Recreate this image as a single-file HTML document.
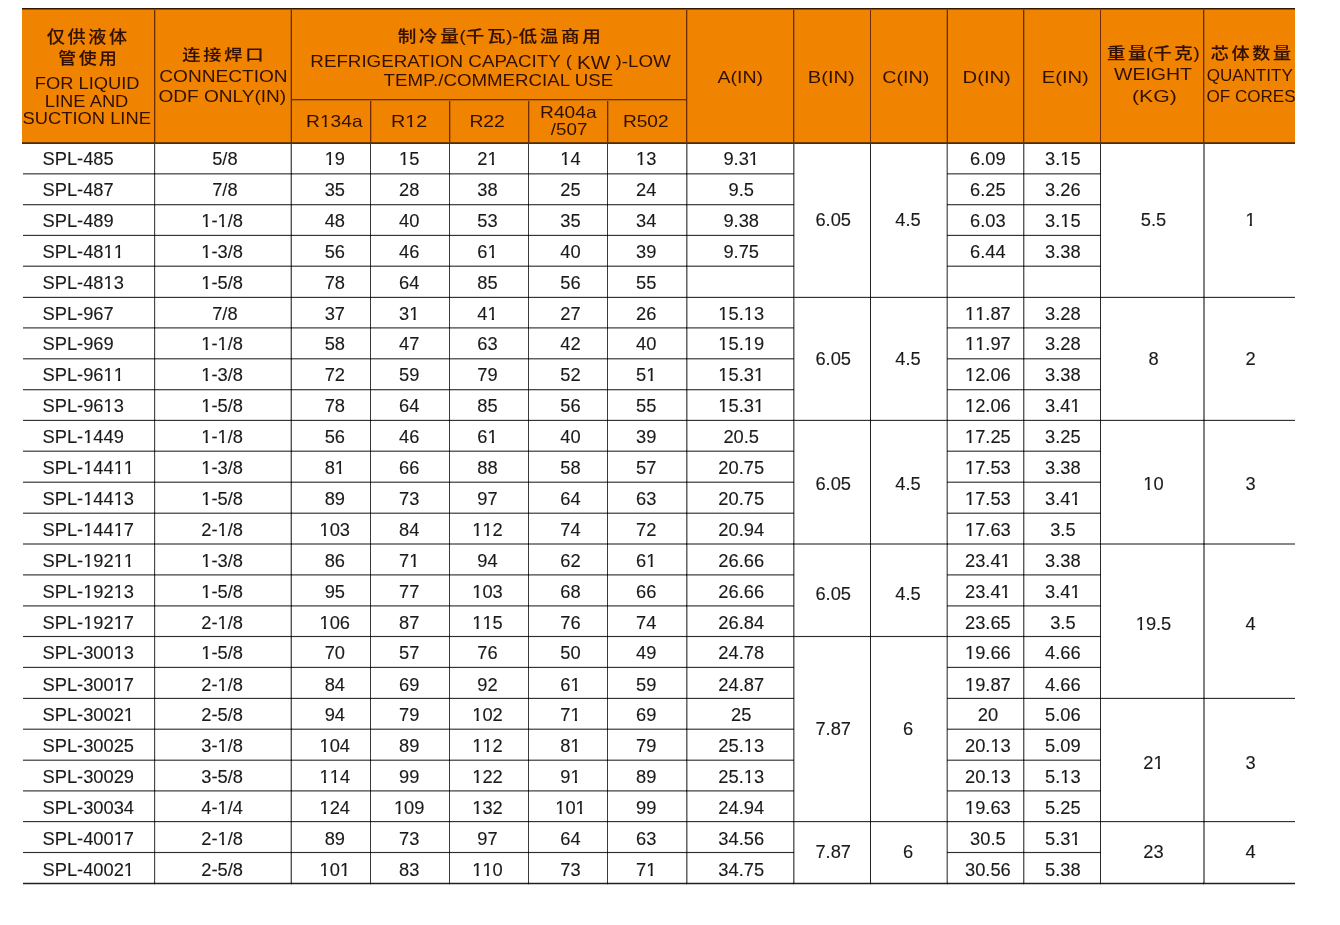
<!DOCTYPE html>
<html><head><meta charset="utf-8"><title>SPL</title>
<style>
html,body{margin:0;padding:0;background:#fff;}
body{width:1340px;height:925px;position:relative;overflow:hidden;}
.l{position:absolute;}
.m{mix-blend-mode:multiply;}
.d{position:absolute;font-family:"Liberation Sans",Arial,sans-serif;font-size:18.3px;line-height:21px;height:21px;color:#1a1a1a;white-space:nowrap;-webkit-text-stroke:0.12px #1a1a1a;}
.c{text-align:center;}
.p{font-style:normal;letter-spacing:0;margin-left:-2px;}
.o{display:inline-block;line-height:1em;clip-path:polygon(0 0,100% 0,100% 0.71em,0.355em 0.71em,0.355em 1em,0.235em 1em,0.235em 0.71em,0 0.71em);}
.kw{font-weight:normal;font-size:1.1em;position:relative;top:1.5px;display:inline-block;transform:scaleY(1.06);}
.he,.hc{position:absolute;width:400px;text-align:center;white-space:nowrap;color:#321000;}
.he span,.hc span{display:inline-block;transform-origin:50% 50%;}
.he{font-family:"Liberation Sans",Arial,sans-serif;font-size:16.5px;line-height:12px;height:12px;}
.hc{font-family:"Liberation Sans","Noto Sans CJK SC",sans-serif;font-size:18px;font-weight:500;line-height:16px;height:16px;letter-spacing:2.6px;-webkit-text-stroke:0.15px #321000;}
</style></head><body>
<div id="wrap" style="position:absolute;left:0;top:0;width:1340px;height:925px;will-change:transform">
<div class="l" style="left:22px;top:8px;width:1273px;height:136px;background:#f08400"></div>
<div class="l" style="left:22px;top:8px;width:1273px;height:1px;background:#331600"></div>
<div class="l" style="left:22px;top:9px;width:1273px;height:1px;background:#8c5010"></div>
<div class="l" style="left:22px;top:142px;width:1273px;height:1px;background:#6e3c06"></div>
<div class="l" style="left:22px;top:143px;width:1273px;height:1px;background:#45300f"></div>
<div class="l" style="left:155px;top:10px;width:1px;height:132px;background:#bc6a0c"></div>
<div class="l" style="left:154px;top:10px;width:1px;height:132px;background:#702c00"></div>
<div class="l" style="left:290px;top:10px;width:1px;height:132px;background:#bc6a0c"></div>
<div class="l" style="left:291px;top:10px;width:1px;height:132px;background:#702c00"></div>
<div class="l" style="left:687px;top:10px;width:1px;height:132px;background:#bc6a0c"></div>
<div class="l" style="left:686px;top:10px;width:1px;height:132px;background:#702c00"></div>
<div class="l" style="left:794px;top:10px;width:1px;height:132px;background:#bc6a0c"></div>
<div class="l" style="left:793px;top:10px;width:1px;height:132px;background:#702c00"></div>
<div class="l" style="left:870px;top:10px;width:1px;height:132px;background:#702c00"></div>
<div class="l" style="left:946px;top:10px;width:1px;height:132px;background:#bc6a0c"></div>
<div class="l" style="left:947px;top:10px;width:1px;height:132px;background:#702c00"></div>
<div class="l" style="left:1024px;top:10px;width:1px;height:132px;background:#bc6a0c"></div>
<div class="l" style="left:1023px;top:10px;width:1px;height:132px;background:#702c00"></div>
<div class="l" style="left:1100px;top:10px;width:1px;height:132px;background:#702c00"></div>
<div class="l" style="left:1204px;top:10px;width:1px;height:132px;background:#bc6a0c"></div>
<div class="l" style="left:1203px;top:10px;width:1px;height:132px;background:#702c00"></div>
<div class="l" style="left:370px;top:100px;width:1px;height:42px;background:#702c00"></div>
<div class="l" style="left:371px;top:100px;width:1px;height:42px;background:#bc6a0c"></div>
<div class="l" style="left:449px;top:100px;width:1px;height:42px;background:#702c00"></div>
<div class="l" style="left:450px;top:100px;width:1px;height:42px;background:#bc6a0c"></div>
<div class="l" style="left:528px;top:100px;width:1px;height:42px;background:#702c00"></div>
<div class="l" style="left:529px;top:100px;width:1px;height:42px;background:#bc6a0c"></div>
<div class="l" style="left:607px;top:100px;width:1px;height:42px;background:#702c00"></div>
<div class="l" style="left:608px;top:100px;width:1px;height:42px;background:#bc6a0c"></div>
<div class="l" style="left:292px;top:99px;width:394px;height:1px;background:#702c00"></div>
<div class="l" style="left:292px;top:100px;width:394px;height:1px;background:#bc6a0c"></div>
<div class="hc" id="h0" style="left:-111.40px;top:29.10px"><span style="transform:scale(1.0037,0.9320)">仅供液体</span></div>
<div class="hc" id="h1" style="left:-111.50px;top:50.60px"><span style="transform:scale(0.9913,0.8927)">管使用</span></div>
<div class="he" id="h2" style="left:-113.00px;top:77.00px"><span style="transform:scale(1.1089,1.0000)">FOR LIQUID</span></div>
<div class="he" id="h3" style="left:-112.95px;top:95.00px"><span style="transform:scale(1.1106,1.0000)">LINE AND</span></div>
<div class="he" id="h4" style="left:-113.50px;top:112.00px"><span style="transform:scale(1.1112,1.0000)">SUCTION LINE</span></div>
<div class="hc" id="h5" style="left:24.50px;top:46.50px"><span style="transform:scale(1.0161,0.8414)">连接焊口</span></div>
<div class="he" id="h6" style="left:23.30px;top:70.20px"><span style="transform:scale(1.1560,1.0000)">CONNECTION</span></div>
<div class="he" id="h7" style="left:22.10px;top:90.10px"><span style="transform:scale(1.1558,1.0000)">ODF ONLY(IN)</span></div>
<div class="hc" id="h8" style="left:300.55px;top:29.00px"><span style="transform:scale(1.0323,0.8900)">制冷量<i class=p>(</i>千瓦<i class=p>)-</i>低温商用</span></div>
<div class="he" id="h9" style="left:290.40px;top:55.00px"><span style="transform:scale(1.1365,1.0000)">REFRIGERATION CAPACITY ( <b class=kw>KW</b> )-LOW</span></div>
<div class="he" id="h10" style="left:298.50px;top:74.00px"><span style="transform:scale(1.1333,1.0000)">TEMP./COMMERCIAL USE</span></div>
<div class="he" id="h11" style="left:134.20px;top:113.10px"><span style="transform:scale(1.1606,1.0000)">R<span class="o">1</span>34a</span></div>
<div class="he" id="h12" style="left:208.70px;top:113.00px"><span style="transform:scale(1.1971,1.0000)">R<span class="o">1</span>2</span></div>
<div class="he" id="h13" style="left:287.20px;top:115.00px"><span style="transform:scale(1.1687,1.0000)">R22</span></div>
<div class="he" id="h14" style="left:368.20px;top:105.90px"><span style="transform:scale(1.1606,1.0000)">R404a</span></div>
<div class="he" id="h15" style="left:369.00px;top:122.90px"><span style="transform:scale(1.1394,1.0000)">/507</span></div>
<div class="he" id="h16" style="left:445.40px;top:115.00px"><span style="transform:scale(1.1569,1.0000)">R502</span></div>
<div class="he" id="h17" style="left:540.00px;top:71.00px"><span style="transform:scale(1.1838,1.0000)">A(IN)</span></div>
<div class="he" id="h18" style="left:631.60px;top:71.00px"><span style="transform:scale(1.2152,1.0000)">B(IN)</span></div>
<div class="he" id="h19" style="left:706.00px;top:71.00px"><span style="transform:scale(1.1958,1.0000)">C(IN)</span></div>
<div class="he" id="h20" style="left:786.60px;top:71.20px"><span style="transform:scale(1.2260,1.0000)">D(IN)</span></div>
<div class="he" id="h21" style="left:865.60px;top:71.20px"><span style="transform:scale(1.2235,1.0000)">E(IN)</span></div>
<div class="hc" id="h22" style="left:953.05px;top:46.00px"><span style="transform:scale(1.0248,0.8900)">重量<i class=p>(</i>千克<i class=p>)</i></span></div>
<div class="he" id="h23" style="left:952.80px;top:68.20px"><span style="transform:scale(1.1811,1.0000)">WEIGHT</span></div>
<div class="he" id="h24" style="left:954.20px;top:89.50px"><span style="transform:scale(1.2853,1.0000)">(KG)</span></div>
<div class="hc" id="h25" style="left:1052.30px;top:46.40px"><span style="transform:scale(1.0042,0.8598)">芯体数量</span></div>
<div class="he" id="h26" style="left:1050.00px;top:69.00px"><span style="transform:scale(1.0329,1.0000)">QUANTITY</span></div>
<div class="he" id="h27" style="left:1051.00px;top:89.80px"><span style="transform:scale(1.0332,1.0000)">OF CORES</span></div>
<div class="d" style="left:42.5px;top:148.00px">SPL-485</div>
<div class="d c" style="left:156.9px;top:148.00px;width:135.99999999999997px">5/8</div>
<div class="d c" style="left:295.8px;top:148.00px;width:78.0px"><span class="o">1</span>9</div>
<div class="d c" style="left:370.2px;top:148.00px;width:78.0px"><span class="o">1</span>5</div>
<div class="d c" style="left:448.5px;top:148.00px;width:78.0px">2<span class="o">1</span></div>
<div class="d c" style="left:531.5px;top:148.00px;width:78.0px"><span class="o">1</span>4</div>
<div class="d c" style="left:607.2px;top:148.00px;width:78.0px"><span class="o">1</span>3</div>
<div class="d c" style="left:688.2px;top:148.00px;width:106.0px">9.3<span class="o">1</span></div>
<div class="d c" style="left:950.4px;top:148.00px;width:75.00000000000011px">6.09</div>
<div class="d c" style="left:1024.9px;top:148.00px;width:76.0px">3.<span class="o">1</span>5</div>
<div class="d" style="left:42.5px;top:179.00px">SPL-487</div>
<div class="d c" style="left:156.9px;top:179.00px;width:135.99999999999997px">7/8</div>
<div class="d c" style="left:295.8px;top:179.00px;width:78.0px">35</div>
<div class="d c" style="left:370.2px;top:179.00px;width:78.0px">28</div>
<div class="d c" style="left:448.5px;top:179.00px;width:78.0px">38</div>
<div class="d c" style="left:531.5px;top:179.00px;width:78.0px">25</div>
<div class="d c" style="left:607.2px;top:179.00px;width:78.0px">24</div>
<div class="d c" style="left:688.2px;top:179.00px;width:106.0px">9.5</div>
<div class="d c" style="left:950.4px;top:179.00px;width:75.00000000000011px">6.25</div>
<div class="d c" style="left:1024.9px;top:179.00px;width:76.0px">3.26</div>
<div class="d" style="left:42.5px;top:210.00px">SPL-489</div>
<div class="d c" style="left:154.2px;top:210.00px;width:136.0px"><span class="o">1</span>-<span class="o">1</span>/8</div>
<div class="d c" style="left:295.8px;top:210.00px;width:78.0px">48</div>
<div class="d c" style="left:370.2px;top:210.00px;width:78.0px">40</div>
<div class="d c" style="left:448.5px;top:210.00px;width:78.0px">53</div>
<div class="d c" style="left:531.5px;top:210.00px;width:78.0px">35</div>
<div class="d c" style="left:607.2px;top:210.00px;width:78.0px">34</div>
<div class="d c" style="left:688.2px;top:210.00px;width:106.0px">9.38</div>
<div class="d c" style="left:950.4px;top:210.00px;width:75.00000000000011px">6.03</div>
<div class="d c" style="left:1024.9px;top:210.00px;width:76.0px">3.<span class="o">1</span>5</div>
<div class="d" style="left:42.5px;top:241.00px">SPL-48<span class="o">1</span><span class="o">1</span></div>
<div class="d c" style="left:154.2px;top:241.00px;width:136.0px"><span class="o">1</span>-3/8</div>
<div class="d c" style="left:295.8px;top:241.00px;width:78.0px">56</div>
<div class="d c" style="left:370.2px;top:241.00px;width:78.0px">46</div>
<div class="d c" style="left:448.5px;top:241.00px;width:78.0px">6<span class="o">1</span></div>
<div class="d c" style="left:531.5px;top:241.00px;width:78.0px">40</div>
<div class="d c" style="left:607.2px;top:241.00px;width:78.0px">39</div>
<div class="d c" style="left:688.2px;top:241.00px;width:106.0px">9.75</div>
<div class="d c" style="left:950.4px;top:241.00px;width:75.00000000000011px">6.44</div>
<div class="d c" style="left:1024.9px;top:241.00px;width:76.0px">3.38</div>
<div class="d" style="left:42.5px;top:272.00px">SPL-48<span class="o">1</span>3</div>
<div class="d c" style="left:154.2px;top:272.00px;width:136.0px"><span class="o">1</span>-5/8</div>
<div class="d c" style="left:295.8px;top:272.00px;width:78.0px">78</div>
<div class="d c" style="left:370.2px;top:272.00px;width:78.0px">64</div>
<div class="d c" style="left:448.5px;top:272.00px;width:78.0px">85</div>
<div class="d c" style="left:531.5px;top:272.00px;width:78.0px">56</div>
<div class="d c" style="left:607.2px;top:272.00px;width:78.0px">55</div>
<div class="d" style="left:42.5px;top:303.00px">SPL-967</div>
<div class="d c" style="left:156.9px;top:303.00px;width:135.99999999999997px">7/8</div>
<div class="d c" style="left:295.8px;top:303.00px;width:78.0px">37</div>
<div class="d c" style="left:370.2px;top:303.00px;width:78.0px">3<span class="o">1</span></div>
<div class="d c" style="left:448.5px;top:303.00px;width:78.0px">4<span class="o">1</span></div>
<div class="d c" style="left:531.5px;top:303.00px;width:78.0px">27</div>
<div class="d c" style="left:607.2px;top:303.00px;width:78.0px">26</div>
<div class="d c" style="left:688.2px;top:303.00px;width:106.0px"><span class="o">1</span>5.<span class="o">1</span>3</div>
<div class="d c" style="left:950.4px;top:303.00px;width:75.00000000000011px"><span class="o">1</span><span class="o">1</span>.87</div>
<div class="d c" style="left:1024.9px;top:303.00px;width:76.0px">3.28</div>
<div class="d" style="left:42.5px;top:333.00px">SPL-969</div>
<div class="d c" style="left:154.2px;top:333.00px;width:136.0px"><span class="o">1</span>-<span class="o">1</span>/8</div>
<div class="d c" style="left:295.8px;top:333.00px;width:78.0px">58</div>
<div class="d c" style="left:370.2px;top:333.00px;width:78.0px">47</div>
<div class="d c" style="left:448.5px;top:333.00px;width:78.0px">63</div>
<div class="d c" style="left:531.5px;top:333.00px;width:78.0px">42</div>
<div class="d c" style="left:607.2px;top:333.00px;width:78.0px">40</div>
<div class="d c" style="left:688.2px;top:333.00px;width:106.0px"><span class="o">1</span>5.<span class="o">1</span>9</div>
<div class="d c" style="left:950.4px;top:333.00px;width:75.00000000000011px"><span class="o">1</span><span class="o">1</span>.97</div>
<div class="d c" style="left:1024.9px;top:333.00px;width:76.0px">3.28</div>
<div class="d" style="left:42.5px;top:364.00px">SPL-96<span class="o">1</span><span class="o">1</span></div>
<div class="d c" style="left:154.2px;top:364.00px;width:136.0px"><span class="o">1</span>-3/8</div>
<div class="d c" style="left:295.8px;top:364.00px;width:78.0px">72</div>
<div class="d c" style="left:370.2px;top:364.00px;width:78.0px">59</div>
<div class="d c" style="left:448.5px;top:364.00px;width:78.0px">79</div>
<div class="d c" style="left:531.5px;top:364.00px;width:78.0px">52</div>
<div class="d c" style="left:607.2px;top:364.00px;width:78.0px">5<span class="o">1</span></div>
<div class="d c" style="left:688.2px;top:364.00px;width:106.0px"><span class="o">1</span>5.3<span class="o">1</span></div>
<div class="d c" style="left:950.4px;top:364.00px;width:75.00000000000011px"><span class="o">1</span>2.06</div>
<div class="d c" style="left:1024.9px;top:364.00px;width:76.0px">3.38</div>
<div class="d" style="left:42.5px;top:395.00px">SPL-96<span class="o">1</span>3</div>
<div class="d c" style="left:154.2px;top:395.00px;width:136.0px"><span class="o">1</span>-5/8</div>
<div class="d c" style="left:295.8px;top:395.00px;width:78.0px">78</div>
<div class="d c" style="left:370.2px;top:395.00px;width:78.0px">64</div>
<div class="d c" style="left:448.5px;top:395.00px;width:78.0px">85</div>
<div class="d c" style="left:531.5px;top:395.00px;width:78.0px">56</div>
<div class="d c" style="left:607.2px;top:395.00px;width:78.0px">55</div>
<div class="d c" style="left:688.2px;top:395.00px;width:106.0px"><span class="o">1</span>5.3<span class="o">1</span></div>
<div class="d c" style="left:950.4px;top:395.00px;width:75.00000000000011px"><span class="o">1</span>2.06</div>
<div class="d c" style="left:1024.9px;top:395.00px;width:76.0px">3.4<span class="o">1</span></div>
<div class="d" style="left:42.5px;top:426.00px">SPL-<span class="o">1</span>449</div>
<div class="d c" style="left:154.2px;top:426.00px;width:136.0px"><span class="o">1</span>-<span class="o">1</span>/8</div>
<div class="d c" style="left:295.8px;top:426.00px;width:78.0px">56</div>
<div class="d c" style="left:370.2px;top:426.00px;width:78.0px">46</div>
<div class="d c" style="left:448.5px;top:426.00px;width:78.0px">6<span class="o">1</span></div>
<div class="d c" style="left:531.5px;top:426.00px;width:78.0px">40</div>
<div class="d c" style="left:607.2px;top:426.00px;width:78.0px">39</div>
<div class="d c" style="left:688.2px;top:426.00px;width:106.0px">20.5</div>
<div class="d c" style="left:950.4px;top:426.00px;width:75.00000000000011px"><span class="o">1</span>7.25</div>
<div class="d c" style="left:1024.9px;top:426.00px;width:76.0px">3.25</div>
<div class="d" style="left:42.5px;top:457.00px">SPL-<span class="o">1</span>44<span class="o">1</span><span class="o">1</span></div>
<div class="d c" style="left:154.2px;top:457.00px;width:136.0px"><span class="o">1</span>-3/8</div>
<div class="d c" style="left:295.8px;top:457.00px;width:78.0px">8<span class="o">1</span></div>
<div class="d c" style="left:370.2px;top:457.00px;width:78.0px">66</div>
<div class="d c" style="left:448.5px;top:457.00px;width:78.0px">88</div>
<div class="d c" style="left:531.5px;top:457.00px;width:78.0px">58</div>
<div class="d c" style="left:607.2px;top:457.00px;width:78.0px">57</div>
<div class="d c" style="left:688.2px;top:457.00px;width:106.0px">20.75</div>
<div class="d c" style="left:950.4px;top:457.00px;width:75.00000000000011px"><span class="o">1</span>7.53</div>
<div class="d c" style="left:1024.9px;top:457.00px;width:76.0px">3.38</div>
<div class="d" style="left:42.5px;top:488.00px">SPL-<span class="o">1</span>44<span class="o">1</span>3</div>
<div class="d c" style="left:154.2px;top:488.00px;width:136.0px"><span class="o">1</span>-5/8</div>
<div class="d c" style="left:295.8px;top:488.00px;width:78.0px">89</div>
<div class="d c" style="left:370.2px;top:488.00px;width:78.0px">73</div>
<div class="d c" style="left:448.5px;top:488.00px;width:78.0px">97</div>
<div class="d c" style="left:531.5px;top:488.00px;width:78.0px">64</div>
<div class="d c" style="left:607.2px;top:488.00px;width:78.0px">63</div>
<div class="d c" style="left:688.2px;top:488.00px;width:106.0px">20.75</div>
<div class="d c" style="left:950.4px;top:488.00px;width:75.00000000000011px"><span class="o">1</span>7.53</div>
<div class="d c" style="left:1024.9px;top:488.00px;width:76.0px">3.4<span class="o">1</span></div>
<div class="d" style="left:42.5px;top:519.00px">SPL-<span class="o">1</span>44<span class="o">1</span>7</div>
<div class="d c" style="left:154.2px;top:519.00px;width:136.0px">2-<span class="o">1</span>/8</div>
<div class="d c" style="left:295.8px;top:519.00px;width:78.0px"><span class="o">1</span>03</div>
<div class="d c" style="left:370.2px;top:519.00px;width:78.0px">84</div>
<div class="d c" style="left:448.5px;top:519.00px;width:78.0px"><span class="o">1</span><span class="o">1</span>2</div>
<div class="d c" style="left:531.5px;top:519.00px;width:78.0px">74</div>
<div class="d c" style="left:607.2px;top:519.00px;width:78.0px">72</div>
<div class="d c" style="left:688.2px;top:519.00px;width:106.0px">20.94</div>
<div class="d c" style="left:950.4px;top:519.00px;width:75.00000000000011px"><span class="o">1</span>7.63</div>
<div class="d c" style="left:1024.9px;top:519.00px;width:76.0px">3.5</div>
<div class="d" style="left:42.5px;top:550.00px">SPL-<span class="o">1</span>92<span class="o">1</span><span class="o">1</span></div>
<div class="d c" style="left:154.2px;top:550.00px;width:136.0px"><span class="o">1</span>-3/8</div>
<div class="d c" style="left:295.8px;top:550.00px;width:78.0px">86</div>
<div class="d c" style="left:370.2px;top:550.00px;width:78.0px">7<span class="o">1</span></div>
<div class="d c" style="left:448.5px;top:550.00px;width:78.0px">94</div>
<div class="d c" style="left:531.5px;top:550.00px;width:78.0px">62</div>
<div class="d c" style="left:607.2px;top:550.00px;width:78.0px">6<span class="o">1</span></div>
<div class="d c" style="left:688.2px;top:550.00px;width:106.0px">26.66</div>
<div class="d c" style="left:950.4px;top:550.00px;width:75.00000000000011px">23.4<span class="o">1</span></div>
<div class="d c" style="left:1024.9px;top:550.00px;width:76.0px">3.38</div>
<div class="d" style="left:42.5px;top:581.00px">SPL-<span class="o">1</span>92<span class="o">1</span>3</div>
<div class="d c" style="left:154.2px;top:581.00px;width:136.0px"><span class="o">1</span>-5/8</div>
<div class="d c" style="left:295.8px;top:581.00px;width:78.0px">95</div>
<div class="d c" style="left:370.2px;top:581.00px;width:78.0px">77</div>
<div class="d c" style="left:448.5px;top:581.00px;width:78.0px"><span class="o">1</span>03</div>
<div class="d c" style="left:531.5px;top:581.00px;width:78.0px">68</div>
<div class="d c" style="left:607.2px;top:581.00px;width:78.0px">66</div>
<div class="d c" style="left:688.2px;top:581.00px;width:106.0px">26.66</div>
<div class="d c" style="left:950.4px;top:581.00px;width:75.00000000000011px">23.4<span class="o">1</span></div>
<div class="d c" style="left:1024.9px;top:581.00px;width:76.0px">3.4<span class="o">1</span></div>
<div class="d" style="left:42.5px;top:612.00px">SPL-<span class="o">1</span>92<span class="o">1</span>7</div>
<div class="d c" style="left:154.2px;top:612.00px;width:136.0px">2-<span class="o">1</span>/8</div>
<div class="d c" style="left:295.8px;top:612.00px;width:78.0px"><span class="o">1</span>06</div>
<div class="d c" style="left:370.2px;top:612.00px;width:78.0px">87</div>
<div class="d c" style="left:448.5px;top:612.00px;width:78.0px"><span class="o">1</span><span class="o">1</span>5</div>
<div class="d c" style="left:531.5px;top:612.00px;width:78.0px">76</div>
<div class="d c" style="left:607.2px;top:612.00px;width:78.0px">74</div>
<div class="d c" style="left:688.2px;top:612.00px;width:106.0px">26.84</div>
<div class="d c" style="left:950.4px;top:612.00px;width:75.00000000000011px">23.65</div>
<div class="d c" style="left:1024.9px;top:612.00px;width:76.0px">3.5</div>
<div class="d" style="left:42.5px;top:642.00px">SPL-300<span class="o">1</span>3</div>
<div class="d c" style="left:154.2px;top:642.00px;width:136.0px"><span class="o">1</span>-5/8</div>
<div class="d c" style="left:295.8px;top:642.00px;width:78.0px">70</div>
<div class="d c" style="left:370.2px;top:642.00px;width:78.0px">57</div>
<div class="d c" style="left:448.5px;top:642.00px;width:78.0px">76</div>
<div class="d c" style="left:531.5px;top:642.00px;width:78.0px">50</div>
<div class="d c" style="left:607.2px;top:642.00px;width:78.0px">49</div>
<div class="d c" style="left:688.2px;top:642.00px;width:106.0px">24.78</div>
<div class="d c" style="left:950.4px;top:642.00px;width:75.00000000000011px"><span class="o">1</span>9.66</div>
<div class="d c" style="left:1024.9px;top:642.00px;width:76.0px">4.66</div>
<div class="d" style="left:42.5px;top:674.00px">SPL-300<span class="o">1</span>7</div>
<div class="d c" style="left:154.2px;top:674.00px;width:136.0px">2-<span class="o">1</span>/8</div>
<div class="d c" style="left:295.8px;top:674.00px;width:78.0px">84</div>
<div class="d c" style="left:370.2px;top:674.00px;width:78.0px">69</div>
<div class="d c" style="left:448.5px;top:674.00px;width:78.0px">92</div>
<div class="d c" style="left:531.5px;top:674.00px;width:78.0px">6<span class="o">1</span></div>
<div class="d c" style="left:607.2px;top:674.00px;width:78.0px">59</div>
<div class="d c" style="left:688.2px;top:674.00px;width:106.0px">24.87</div>
<div class="d c" style="left:950.4px;top:674.00px;width:75.00000000000011px"><span class="o">1</span>9.87</div>
<div class="d c" style="left:1024.9px;top:674.00px;width:76.0px">4.66</div>
<div class="d" style="left:42.5px;top:704.00px">SPL-3002<span class="o">1</span></div>
<div class="d c" style="left:154.2px;top:704.00px;width:136.0px">2-5/8</div>
<div class="d c" style="left:295.8px;top:704.00px;width:78.0px">94</div>
<div class="d c" style="left:370.2px;top:704.00px;width:78.0px">79</div>
<div class="d c" style="left:448.5px;top:704.00px;width:78.0px"><span class="o">1</span>02</div>
<div class="d c" style="left:531.5px;top:704.00px;width:78.0px">7<span class="o">1</span></div>
<div class="d c" style="left:607.2px;top:704.00px;width:78.0px">69</div>
<div class="d c" style="left:688.2px;top:704.00px;width:106.0px">25</div>
<div class="d c" style="left:950.4px;top:704.00px;width:75.00000000000011px">20</div>
<div class="d c" style="left:1024.9px;top:704.00px;width:76.0px">5.06</div>
<div class="d" style="left:42.5px;top:735.00px">SPL-30025</div>
<div class="d c" style="left:154.2px;top:735.00px;width:136.0px">3-<span class="o">1</span>/8</div>
<div class="d c" style="left:295.8px;top:735.00px;width:78.0px"><span class="o">1</span>04</div>
<div class="d c" style="left:370.2px;top:735.00px;width:78.0px">89</div>
<div class="d c" style="left:448.5px;top:735.00px;width:78.0px"><span class="o">1</span><span class="o">1</span>2</div>
<div class="d c" style="left:531.5px;top:735.00px;width:78.0px">8<span class="o">1</span></div>
<div class="d c" style="left:607.2px;top:735.00px;width:78.0px">79</div>
<div class="d c" style="left:688.2px;top:735.00px;width:106.0px">25.<span class="o">1</span>3</div>
<div class="d c" style="left:950.4px;top:735.00px;width:75.00000000000011px">20.<span class="o">1</span>3</div>
<div class="d c" style="left:1024.9px;top:735.00px;width:76.0px">5.09</div>
<div class="d" style="left:42.5px;top:766.00px">SPL-30029</div>
<div class="d c" style="left:154.2px;top:766.00px;width:136.0px">3-5/8</div>
<div class="d c" style="left:295.8px;top:766.00px;width:78.0px"><span class="o">1</span><span class="o">1</span>4</div>
<div class="d c" style="left:370.2px;top:766.00px;width:78.0px">99</div>
<div class="d c" style="left:448.5px;top:766.00px;width:78.0px"><span class="o">1</span>22</div>
<div class="d c" style="left:531.5px;top:766.00px;width:78.0px">9<span class="o">1</span></div>
<div class="d c" style="left:607.2px;top:766.00px;width:78.0px">89</div>
<div class="d c" style="left:688.2px;top:766.00px;width:106.0px">25.<span class="o">1</span>3</div>
<div class="d c" style="left:950.4px;top:766.00px;width:75.00000000000011px">20.<span class="o">1</span>3</div>
<div class="d c" style="left:1024.9px;top:766.00px;width:76.0px">5.<span class="o">1</span>3</div>
<div class="d" style="left:42.5px;top:797.00px">SPL-30034</div>
<div class="d c" style="left:154.2px;top:797.00px;width:136.0px">4-<span class="o">1</span>/4</div>
<div class="d c" style="left:295.8px;top:797.00px;width:78.0px"><span class="o">1</span>24</div>
<div class="d c" style="left:370.2px;top:797.00px;width:78.0px"><span class="o">1</span>09</div>
<div class="d c" style="left:448.5px;top:797.00px;width:78.0px"><span class="o">1</span>32</div>
<div class="d c" style="left:531.5px;top:797.00px;width:78.0px"><span class="o">1</span>0<span class="o">1</span></div>
<div class="d c" style="left:607.2px;top:797.00px;width:78.0px">99</div>
<div class="d c" style="left:688.2px;top:797.00px;width:106.0px">24.94</div>
<div class="d c" style="left:950.4px;top:797.00px;width:75.00000000000011px"><span class="o">1</span>9.63</div>
<div class="d c" style="left:1024.9px;top:797.00px;width:76.0px">5.25</div>
<div class="d" style="left:42.5px;top:828.00px">SPL-400<span class="o">1</span>7</div>
<div class="d c" style="left:154.2px;top:828.00px;width:136.0px">2-<span class="o">1</span>/8</div>
<div class="d c" style="left:295.8px;top:828.00px;width:78.0px">89</div>
<div class="d c" style="left:370.2px;top:828.00px;width:78.0px">73</div>
<div class="d c" style="left:448.5px;top:828.00px;width:78.0px">97</div>
<div class="d c" style="left:531.5px;top:828.00px;width:78.0px">64</div>
<div class="d c" style="left:607.2px;top:828.00px;width:78.0px">63</div>
<div class="d c" style="left:688.2px;top:828.00px;width:106.0px">34.56</div>
<div class="d c" style="left:950.4px;top:828.00px;width:75.00000000000011px">30.5</div>
<div class="d c" style="left:1024.9px;top:828.00px;width:76.0px">5.3<span class="o">1</span></div>
<div class="d" style="left:42.5px;top:859.00px">SPL-4002<span class="o">1</span></div>
<div class="d c" style="left:154.2px;top:859.00px;width:136.0px">2-5/8</div>
<div class="d c" style="left:295.8px;top:859.00px;width:78.0px"><span class="o">1</span>0<span class="o">1</span></div>
<div class="d c" style="left:370.2px;top:859.00px;width:78.0px">83</div>
<div class="d c" style="left:448.5px;top:859.00px;width:78.0px"><span class="o">1</span><span class="o">1</span>0</div>
<div class="d c" style="left:531.5px;top:859.00px;width:78.0px">73</div>
<div class="d c" style="left:607.2px;top:859.00px;width:78.0px">7<span class="o">1</span></div>
<div class="d c" style="left:688.2px;top:859.00px;width:106.0px">34.75</div>
<div class="d c" style="left:950.4px;top:859.00px;width:75.00000000000011px">30.56</div>
<div class="d c" style="left:1024.9px;top:859.00px;width:76.0px">5.38</div>
<div class="d c" style="left:795.2px;top:209.00px;width:76.0px">6.05</div>
<div class="d c" style="left:795.2px;top:348.00px;width:76.0px">6.05</div>
<div class="d c" style="left:795.2px;top:473.00px;width:76.0px">6.05</div>
<div class="d c" style="left:795.2px;top:583.00px;width:76.0px">6.05</div>
<div class="d c" style="left:795.2px;top:718.00px;width:76.0px">7.87</div>
<div class="d c" style="left:795.2px;top:841.00px;width:76.0px">7.87</div>
<div class="d c" style="left:870.0px;top:209.00px;width:76.0px">4.5</div>
<div class="d c" style="left:870.0px;top:348.00px;width:76.0px">4.5</div>
<div class="d c" style="left:870.0px;top:473.00px;width:76.0px">4.5</div>
<div class="d c" style="left:870.0px;top:583.00px;width:76.0px">4.5</div>
<div class="d c" style="left:870.0px;top:718.00px;width:76.0px">6</div>
<div class="d c" style="left:870.0px;top:841.00px;width:76.0px">6</div>
<div class="d c" style="left:1102.5px;top:209.00px;width:102.0px">5.5</div>
<div class="d c" style="left:1102.5px;top:348.00px;width:102.0px">8</div>
<div class="d c" style="left:1102.5px;top:473.00px;width:102.0px"><span class="o">1</span>0</div>
<div class="d c" style="left:1102.5px;top:613.00px;width:102.0px"><span class="o">1</span>9.5</div>
<div class="d c" style="left:1102.5px;top:752.00px;width:102.0px">2<span class="o">1</span></div>
<div class="d c" style="left:1102.5px;top:841.00px;width:102.0px">23</div>
<div class="d c" style="left:1205.0px;top:209.00px;width:91.0px"><span class="o">1</span></div>
<div class="d c" style="left:1205.0px;top:348.00px;width:91.0px">2</div>
<div class="d c" style="left:1205.0px;top:473.00px;width:91.0px">3</div>
<div class="d c" style="left:1205.0px;top:613.00px;width:91.0px">4</div>
<div class="d c" style="left:1205.0px;top:752.00px;width:91.0px">3</div>
<div class="d c" style="left:1205.0px;top:841.00px;width:91.0px">4</div>
<div class="l m" style="left:155px;top:144px;width:1px;height:739px;background:#e0e0e0"></div>
<div class="l m" style="left:290px;top:144px;width:1px;height:739px;background:#bbbbbb"></div>
<div class="l m" style="left:687px;top:144px;width:1px;height:739px;background:#aaaaaa"></div>
<div class="l m" style="left:794px;top:144px;width:1px;height:739px;background:#aaaaaa"></div>
<div class="l m" style="left:946px;top:144px;width:1px;height:739px;background:#b5b5b5"></div>
<div class="l m" style="left:1024px;top:144px;width:1px;height:739px;background:#bbbbbb"></div>
<div class="l m" style="left:1204px;top:144px;width:1px;height:739px;background:#808080"></div>
<div class="l m" style="left:23px;top:173px;width:132px;height:1px;background:rgb(105, 105, 105)"></div>
<div class="l m" style="left:23px;top:174px;width:132px;height:1px;background:rgb(167, 167, 167)"></div>
<div class="l m" style="left:154px;top:173px;width:138px;height:1px;background:rgb(105, 105, 105)"></div>
<div class="l m" style="left:154px;top:174px;width:138px;height:1px;background:rgb(167, 167, 167)"></div>
<div class="l m" style="left:291px;top:173px;width:80px;height:1px;background:rgb(105, 105, 105)"></div>
<div class="l m" style="left:291px;top:174px;width:80px;height:1px;background:rgb(167, 167, 167)"></div>
<div class="l m" style="left:370px;top:173px;width:80px;height:1px;background:rgb(105, 105, 105)"></div>
<div class="l m" style="left:370px;top:174px;width:80px;height:1px;background:rgb(167, 167, 167)"></div>
<div class="l m" style="left:449px;top:173px;width:80px;height:1px;background:rgb(105, 105, 105)"></div>
<div class="l m" style="left:449px;top:174px;width:80px;height:1px;background:rgb(167, 167, 167)"></div>
<div class="l m" style="left:528px;top:173px;width:80px;height:1px;background:rgb(105, 105, 105)"></div>
<div class="l m" style="left:528px;top:174px;width:80px;height:1px;background:rgb(167, 167, 167)"></div>
<div class="l m" style="left:607px;top:173px;width:80px;height:1px;background:rgb(105, 105, 105)"></div>
<div class="l m" style="left:607px;top:174px;width:80px;height:1px;background:rgb(167, 167, 167)"></div>
<div class="l m" style="left:686px;top:173px;width:108px;height:1px;background:rgb(105, 105, 105)"></div>
<div class="l m" style="left:686px;top:174px;width:108px;height:1px;background:rgb(167, 167, 167)"></div>
<div class="l m" style="left:947px;top:173px;width:77px;height:1px;background:rgb(105, 105, 105)"></div>
<div class="l m" style="left:947px;top:174px;width:77px;height:1px;background:rgb(167, 167, 167)"></div>
<div class="l m" style="left:1023px;top:173px;width:78px;height:1px;background:rgb(105, 105, 105)"></div>
<div class="l m" style="left:1023px;top:174px;width:78px;height:1px;background:rgb(167, 167, 167)"></div>
<div class="l m" style="left:23px;top:204px;width:132px;height:1px;background:rgb(74, 74, 74)"></div>
<div class="l m" style="left:23px;top:205px;width:132px;height:1px;background:rgb(198, 198, 198)"></div>
<div class="l m" style="left:154px;top:204px;width:138px;height:1px;background:rgb(74, 74, 74)"></div>
<div class="l m" style="left:154px;top:205px;width:138px;height:1px;background:rgb(198, 198, 198)"></div>
<div class="l m" style="left:291px;top:204px;width:80px;height:1px;background:rgb(74, 74, 74)"></div>
<div class="l m" style="left:291px;top:205px;width:80px;height:1px;background:rgb(198, 198, 198)"></div>
<div class="l m" style="left:370px;top:204px;width:80px;height:1px;background:rgb(74, 74, 74)"></div>
<div class="l m" style="left:370px;top:205px;width:80px;height:1px;background:rgb(198, 198, 198)"></div>
<div class="l m" style="left:449px;top:204px;width:80px;height:1px;background:rgb(74, 74, 74)"></div>
<div class="l m" style="left:449px;top:205px;width:80px;height:1px;background:rgb(198, 198, 198)"></div>
<div class="l m" style="left:528px;top:204px;width:80px;height:1px;background:rgb(74, 74, 74)"></div>
<div class="l m" style="left:528px;top:205px;width:80px;height:1px;background:rgb(198, 198, 198)"></div>
<div class="l m" style="left:607px;top:204px;width:80px;height:1px;background:rgb(74, 74, 74)"></div>
<div class="l m" style="left:607px;top:205px;width:80px;height:1px;background:rgb(198, 198, 198)"></div>
<div class="l m" style="left:686px;top:204px;width:108px;height:1px;background:rgb(74, 74, 74)"></div>
<div class="l m" style="left:686px;top:205px;width:108px;height:1px;background:rgb(198, 198, 198)"></div>
<div class="l m" style="left:947px;top:204px;width:77px;height:1px;background:rgb(74, 74, 74)"></div>
<div class="l m" style="left:947px;top:205px;width:77px;height:1px;background:rgb(198, 198, 198)"></div>
<div class="l m" style="left:1023px;top:204px;width:78px;height:1px;background:rgb(74, 74, 74)"></div>
<div class="l m" style="left:1023px;top:205px;width:78px;height:1px;background:rgb(198, 198, 198)"></div>
<div class="l m" style="left:23px;top:234px;width:132px;height:1px;background:rgb(219, 219, 219)"></div>
<div class="l m" style="left:23px;top:235px;width:132px;height:1px;background:rgb(53, 53, 53)"></div>
<div class="l m" style="left:154px;top:234px;width:138px;height:1px;background:rgb(219, 219, 219)"></div>
<div class="l m" style="left:154px;top:235px;width:138px;height:1px;background:rgb(53, 53, 53)"></div>
<div class="l m" style="left:291px;top:234px;width:80px;height:1px;background:rgb(219, 219, 219)"></div>
<div class="l m" style="left:291px;top:235px;width:80px;height:1px;background:rgb(53, 53, 53)"></div>
<div class="l m" style="left:370px;top:234px;width:80px;height:1px;background:rgb(219, 219, 219)"></div>
<div class="l m" style="left:370px;top:235px;width:80px;height:1px;background:rgb(53, 53, 53)"></div>
<div class="l m" style="left:449px;top:234px;width:80px;height:1px;background:rgb(219, 219, 219)"></div>
<div class="l m" style="left:449px;top:235px;width:80px;height:1px;background:rgb(53, 53, 53)"></div>
<div class="l m" style="left:528px;top:234px;width:80px;height:1px;background:rgb(219, 219, 219)"></div>
<div class="l m" style="left:528px;top:235px;width:80px;height:1px;background:rgb(53, 53, 53)"></div>
<div class="l m" style="left:607px;top:234px;width:80px;height:1px;background:rgb(219, 219, 219)"></div>
<div class="l m" style="left:607px;top:235px;width:80px;height:1px;background:rgb(53, 53, 53)"></div>
<div class="l m" style="left:686px;top:234px;width:108px;height:1px;background:rgb(219, 219, 219)"></div>
<div class="l m" style="left:686px;top:235px;width:108px;height:1px;background:rgb(53, 53, 53)"></div>
<div class="l m" style="left:947px;top:234px;width:77px;height:1px;background:rgb(219, 219, 219)"></div>
<div class="l m" style="left:947px;top:235px;width:77px;height:1px;background:rgb(53, 53, 53)"></div>
<div class="l m" style="left:1023px;top:234px;width:78px;height:1px;background:rgb(219, 219, 219)"></div>
<div class="l m" style="left:1023px;top:235px;width:78px;height:1px;background:rgb(53, 53, 53)"></div>
<div class="l m" style="left:23px;top:265px;width:132px;height:1px;background:rgb(177, 177, 177)"></div>
<div class="l m" style="left:23px;top:266px;width:132px;height:1px;background:rgb(95, 95, 95)"></div>
<div class="l m" style="left:154px;top:265px;width:138px;height:1px;background:rgb(177, 177, 177)"></div>
<div class="l m" style="left:154px;top:266px;width:138px;height:1px;background:rgb(95, 95, 95)"></div>
<div class="l m" style="left:291px;top:265px;width:80px;height:1px;background:rgb(177, 177, 177)"></div>
<div class="l m" style="left:291px;top:266px;width:80px;height:1px;background:rgb(95, 95, 95)"></div>
<div class="l m" style="left:370px;top:265px;width:80px;height:1px;background:rgb(177, 177, 177)"></div>
<div class="l m" style="left:370px;top:266px;width:80px;height:1px;background:rgb(95, 95, 95)"></div>
<div class="l m" style="left:449px;top:265px;width:80px;height:1px;background:rgb(177, 177, 177)"></div>
<div class="l m" style="left:449px;top:266px;width:80px;height:1px;background:rgb(95, 95, 95)"></div>
<div class="l m" style="left:528px;top:265px;width:80px;height:1px;background:rgb(177, 177, 177)"></div>
<div class="l m" style="left:528px;top:266px;width:80px;height:1px;background:rgb(95, 95, 95)"></div>
<div class="l m" style="left:607px;top:265px;width:80px;height:1px;background:rgb(177, 177, 177)"></div>
<div class="l m" style="left:607px;top:266px;width:80px;height:1px;background:rgb(95, 95, 95)"></div>
<div class="l m" style="left:686px;top:265px;width:108px;height:1px;background:rgb(177, 177, 177)"></div>
<div class="l m" style="left:686px;top:266px;width:108px;height:1px;background:rgb(95, 95, 95)"></div>
<div class="l m" style="left:947px;top:265px;width:77px;height:1px;background:rgb(177, 177, 177)"></div>
<div class="l m" style="left:947px;top:266px;width:77px;height:1px;background:rgb(95, 95, 95)"></div>
<div class="l m" style="left:1023px;top:265px;width:78px;height:1px;background:rgb(177, 177, 177)"></div>
<div class="l m" style="left:1023px;top:266px;width:78px;height:1px;background:rgb(95, 95, 95)"></div>
<div class="l m" style="left:23px;top:296px;width:132px;height:1px;background:rgb(219, 219, 219)"></div>
<div class="l m" style="left:23px;top:297px;width:132px;height:1px;background:rgb(53, 53, 53)"></div>
<div class="l m" style="left:154px;top:296px;width:138px;height:1px;background:rgb(219, 219, 219)"></div>
<div class="l m" style="left:154px;top:297px;width:138px;height:1px;background:rgb(53, 53, 53)"></div>
<div class="l m" style="left:291px;top:296px;width:80px;height:1px;background:rgb(219, 219, 219)"></div>
<div class="l m" style="left:291px;top:297px;width:80px;height:1px;background:rgb(53, 53, 53)"></div>
<div class="l m" style="left:370px;top:296px;width:80px;height:1px;background:rgb(219, 219, 219)"></div>
<div class="l m" style="left:370px;top:297px;width:80px;height:1px;background:rgb(53, 53, 53)"></div>
<div class="l m" style="left:449px;top:296px;width:80px;height:1px;background:rgb(219, 219, 219)"></div>
<div class="l m" style="left:449px;top:297px;width:80px;height:1px;background:rgb(53, 53, 53)"></div>
<div class="l m" style="left:528px;top:296px;width:80px;height:1px;background:rgb(219, 219, 219)"></div>
<div class="l m" style="left:528px;top:297px;width:80px;height:1px;background:rgb(53, 53, 53)"></div>
<div class="l m" style="left:607px;top:296px;width:80px;height:1px;background:rgb(219, 219, 219)"></div>
<div class="l m" style="left:607px;top:297px;width:80px;height:1px;background:rgb(53, 53, 53)"></div>
<div class="l m" style="left:686px;top:296px;width:108px;height:1px;background:rgb(219, 219, 219)"></div>
<div class="l m" style="left:686px;top:297px;width:108px;height:1px;background:rgb(53, 53, 53)"></div>
<div class="l m" style="left:793px;top:296px;width:78px;height:1px;background:rgb(219, 219, 219)"></div>
<div class="l m" style="left:793px;top:297px;width:78px;height:1px;background:rgb(53, 53, 53)"></div>
<div class="l m" style="left:870px;top:296px;width:78px;height:1px;background:rgb(219, 219, 219)"></div>
<div class="l m" style="left:870px;top:297px;width:78px;height:1px;background:rgb(53, 53, 53)"></div>
<div class="l m" style="left:947px;top:296px;width:77px;height:1px;background:rgb(219, 219, 219)"></div>
<div class="l m" style="left:947px;top:297px;width:77px;height:1px;background:rgb(53, 53, 53)"></div>
<div class="l m" style="left:1023px;top:296px;width:78px;height:1px;background:rgb(219, 219, 219)"></div>
<div class="l m" style="left:1023px;top:297px;width:78px;height:1px;background:rgb(53, 53, 53)"></div>
<div class="l m" style="left:1100px;top:296px;width:104px;height:1px;background:rgb(219, 219, 219)"></div>
<div class="l m" style="left:1100px;top:297px;width:104px;height:1px;background:rgb(53, 53, 53)"></div>
<div class="l m" style="left:1203px;top:296px;width:92px;height:1px;background:rgb(219, 219, 219)"></div>
<div class="l m" style="left:1203px;top:297px;width:92px;height:1px;background:rgb(53, 53, 53)"></div>
<div class="l m" style="left:23px;top:327px;width:132px;height:1px;background:rgb(115, 115, 115)"></div>
<div class="l m" style="left:23px;top:328px;width:132px;height:1px;background:rgb(157, 157, 157)"></div>
<div class="l m" style="left:154px;top:327px;width:138px;height:1px;background:rgb(115, 115, 115)"></div>
<div class="l m" style="left:154px;top:328px;width:138px;height:1px;background:rgb(157, 157, 157)"></div>
<div class="l m" style="left:291px;top:327px;width:80px;height:1px;background:rgb(115, 115, 115)"></div>
<div class="l m" style="left:291px;top:328px;width:80px;height:1px;background:rgb(157, 157, 157)"></div>
<div class="l m" style="left:370px;top:327px;width:80px;height:1px;background:rgb(115, 115, 115)"></div>
<div class="l m" style="left:370px;top:328px;width:80px;height:1px;background:rgb(157, 157, 157)"></div>
<div class="l m" style="left:449px;top:327px;width:80px;height:1px;background:rgb(115, 115, 115)"></div>
<div class="l m" style="left:449px;top:328px;width:80px;height:1px;background:rgb(157, 157, 157)"></div>
<div class="l m" style="left:528px;top:327px;width:80px;height:1px;background:rgb(115, 115, 115)"></div>
<div class="l m" style="left:528px;top:328px;width:80px;height:1px;background:rgb(157, 157, 157)"></div>
<div class="l m" style="left:607px;top:327px;width:80px;height:1px;background:rgb(115, 115, 115)"></div>
<div class="l m" style="left:607px;top:328px;width:80px;height:1px;background:rgb(157, 157, 157)"></div>
<div class="l m" style="left:686px;top:327px;width:108px;height:1px;background:rgb(115, 115, 115)"></div>
<div class="l m" style="left:686px;top:328px;width:108px;height:1px;background:rgb(157, 157, 157)"></div>
<div class="l m" style="left:947px;top:327px;width:77px;height:1px;background:rgb(115, 115, 115)"></div>
<div class="l m" style="left:947px;top:328px;width:77px;height:1px;background:rgb(157, 157, 157)"></div>
<div class="l m" style="left:1023px;top:327px;width:78px;height:1px;background:rgb(115, 115, 115)"></div>
<div class="l m" style="left:1023px;top:328px;width:78px;height:1px;background:rgb(157, 157, 157)"></div>
<div class="l m" style="left:23px;top:358px;width:132px;height:1px;background:rgb(95, 95, 95)"></div>
<div class="l m" style="left:23px;top:359px;width:132px;height:1px;background:rgb(177, 177, 177)"></div>
<div class="l m" style="left:154px;top:358px;width:138px;height:1px;background:rgb(95, 95, 95)"></div>
<div class="l m" style="left:154px;top:359px;width:138px;height:1px;background:rgb(177, 177, 177)"></div>
<div class="l m" style="left:291px;top:358px;width:80px;height:1px;background:rgb(95, 95, 95)"></div>
<div class="l m" style="left:291px;top:359px;width:80px;height:1px;background:rgb(177, 177, 177)"></div>
<div class="l m" style="left:370px;top:358px;width:80px;height:1px;background:rgb(95, 95, 95)"></div>
<div class="l m" style="left:370px;top:359px;width:80px;height:1px;background:rgb(177, 177, 177)"></div>
<div class="l m" style="left:449px;top:358px;width:80px;height:1px;background:rgb(95, 95, 95)"></div>
<div class="l m" style="left:449px;top:359px;width:80px;height:1px;background:rgb(177, 177, 177)"></div>
<div class="l m" style="left:528px;top:358px;width:80px;height:1px;background:rgb(95, 95, 95)"></div>
<div class="l m" style="left:528px;top:359px;width:80px;height:1px;background:rgb(177, 177, 177)"></div>
<div class="l m" style="left:607px;top:358px;width:80px;height:1px;background:rgb(95, 95, 95)"></div>
<div class="l m" style="left:607px;top:359px;width:80px;height:1px;background:rgb(177, 177, 177)"></div>
<div class="l m" style="left:686px;top:358px;width:108px;height:1px;background:rgb(95, 95, 95)"></div>
<div class="l m" style="left:686px;top:359px;width:108px;height:1px;background:rgb(177, 177, 177)"></div>
<div class="l m" style="left:947px;top:358px;width:77px;height:1px;background:rgb(95, 95, 95)"></div>
<div class="l m" style="left:947px;top:359px;width:77px;height:1px;background:rgb(177, 177, 177)"></div>
<div class="l m" style="left:1023px;top:358px;width:78px;height:1px;background:rgb(95, 95, 95)"></div>
<div class="l m" style="left:1023px;top:359px;width:78px;height:1px;background:rgb(177, 177, 177)"></div>
<div class="l m" style="left:23px;top:389px;width:132px;height:1px;background:rgb(74, 74, 74)"></div>
<div class="l m" style="left:23px;top:390px;width:132px;height:1px;background:rgb(198, 198, 198)"></div>
<div class="l m" style="left:154px;top:389px;width:138px;height:1px;background:rgb(74, 74, 74)"></div>
<div class="l m" style="left:154px;top:390px;width:138px;height:1px;background:rgb(198, 198, 198)"></div>
<div class="l m" style="left:291px;top:389px;width:80px;height:1px;background:rgb(74, 74, 74)"></div>
<div class="l m" style="left:291px;top:390px;width:80px;height:1px;background:rgb(198, 198, 198)"></div>
<div class="l m" style="left:370px;top:389px;width:80px;height:1px;background:rgb(74, 74, 74)"></div>
<div class="l m" style="left:370px;top:390px;width:80px;height:1px;background:rgb(198, 198, 198)"></div>
<div class="l m" style="left:449px;top:389px;width:80px;height:1px;background:rgb(74, 74, 74)"></div>
<div class="l m" style="left:449px;top:390px;width:80px;height:1px;background:rgb(198, 198, 198)"></div>
<div class="l m" style="left:528px;top:389px;width:80px;height:1px;background:rgb(74, 74, 74)"></div>
<div class="l m" style="left:528px;top:390px;width:80px;height:1px;background:rgb(198, 198, 198)"></div>
<div class="l m" style="left:607px;top:389px;width:80px;height:1px;background:rgb(74, 74, 74)"></div>
<div class="l m" style="left:607px;top:390px;width:80px;height:1px;background:rgb(198, 198, 198)"></div>
<div class="l m" style="left:686px;top:389px;width:108px;height:1px;background:rgb(74, 74, 74)"></div>
<div class="l m" style="left:686px;top:390px;width:108px;height:1px;background:rgb(198, 198, 198)"></div>
<div class="l m" style="left:947px;top:389px;width:77px;height:1px;background:rgb(74, 74, 74)"></div>
<div class="l m" style="left:947px;top:390px;width:77px;height:1px;background:rgb(198, 198, 198)"></div>
<div class="l m" style="left:1023px;top:389px;width:78px;height:1px;background:rgb(74, 74, 74)"></div>
<div class="l m" style="left:1023px;top:390px;width:78px;height:1px;background:rgb(198, 198, 198)"></div>
<div class="l m" style="left:23px;top:419px;width:132px;height:1px;background:rgb(219, 219, 219)"></div>
<div class="l m" style="left:23px;top:420px;width:132px;height:1px;background:rgb(53, 53, 53)"></div>
<div class="l m" style="left:154px;top:419px;width:138px;height:1px;background:rgb(219, 219, 219)"></div>
<div class="l m" style="left:154px;top:420px;width:138px;height:1px;background:rgb(53, 53, 53)"></div>
<div class="l m" style="left:291px;top:419px;width:80px;height:1px;background:rgb(219, 219, 219)"></div>
<div class="l m" style="left:291px;top:420px;width:80px;height:1px;background:rgb(53, 53, 53)"></div>
<div class="l m" style="left:370px;top:419px;width:80px;height:1px;background:rgb(219, 219, 219)"></div>
<div class="l m" style="left:370px;top:420px;width:80px;height:1px;background:rgb(53, 53, 53)"></div>
<div class="l m" style="left:449px;top:419px;width:80px;height:1px;background:rgb(219, 219, 219)"></div>
<div class="l m" style="left:449px;top:420px;width:80px;height:1px;background:rgb(53, 53, 53)"></div>
<div class="l m" style="left:528px;top:419px;width:80px;height:1px;background:rgb(219, 219, 219)"></div>
<div class="l m" style="left:528px;top:420px;width:80px;height:1px;background:rgb(53, 53, 53)"></div>
<div class="l m" style="left:607px;top:419px;width:80px;height:1px;background:rgb(219, 219, 219)"></div>
<div class="l m" style="left:607px;top:420px;width:80px;height:1px;background:rgb(53, 53, 53)"></div>
<div class="l m" style="left:686px;top:419px;width:108px;height:1px;background:rgb(219, 219, 219)"></div>
<div class="l m" style="left:686px;top:420px;width:108px;height:1px;background:rgb(53, 53, 53)"></div>
<div class="l m" style="left:793px;top:419px;width:78px;height:1px;background:rgb(219, 219, 219)"></div>
<div class="l m" style="left:793px;top:420px;width:78px;height:1px;background:rgb(53, 53, 53)"></div>
<div class="l m" style="left:870px;top:419px;width:78px;height:1px;background:rgb(219, 219, 219)"></div>
<div class="l m" style="left:870px;top:420px;width:78px;height:1px;background:rgb(53, 53, 53)"></div>
<div class="l m" style="left:947px;top:419px;width:77px;height:1px;background:rgb(219, 219, 219)"></div>
<div class="l m" style="left:947px;top:420px;width:77px;height:1px;background:rgb(53, 53, 53)"></div>
<div class="l m" style="left:1023px;top:419px;width:78px;height:1px;background:rgb(219, 219, 219)"></div>
<div class="l m" style="left:1023px;top:420px;width:78px;height:1px;background:rgb(53, 53, 53)"></div>
<div class="l m" style="left:1100px;top:419px;width:104px;height:1px;background:rgb(219, 219, 219)"></div>
<div class="l m" style="left:1100px;top:420px;width:104px;height:1px;background:rgb(53, 53, 53)"></div>
<div class="l m" style="left:1203px;top:419px;width:92px;height:1px;background:rgb(219, 219, 219)"></div>
<div class="l m" style="left:1203px;top:420px;width:92px;height:1px;background:rgb(53, 53, 53)"></div>
<div class="l m" style="left:23px;top:450px;width:132px;height:1px;background:rgb(177, 177, 177)"></div>
<div class="l m" style="left:23px;top:451px;width:132px;height:1px;background:rgb(95, 95, 95)"></div>
<div class="l m" style="left:154px;top:450px;width:138px;height:1px;background:rgb(177, 177, 177)"></div>
<div class="l m" style="left:154px;top:451px;width:138px;height:1px;background:rgb(95, 95, 95)"></div>
<div class="l m" style="left:291px;top:450px;width:80px;height:1px;background:rgb(177, 177, 177)"></div>
<div class="l m" style="left:291px;top:451px;width:80px;height:1px;background:rgb(95, 95, 95)"></div>
<div class="l m" style="left:370px;top:450px;width:80px;height:1px;background:rgb(177, 177, 177)"></div>
<div class="l m" style="left:370px;top:451px;width:80px;height:1px;background:rgb(95, 95, 95)"></div>
<div class="l m" style="left:449px;top:450px;width:80px;height:1px;background:rgb(177, 177, 177)"></div>
<div class="l m" style="left:449px;top:451px;width:80px;height:1px;background:rgb(95, 95, 95)"></div>
<div class="l m" style="left:528px;top:450px;width:80px;height:1px;background:rgb(177, 177, 177)"></div>
<div class="l m" style="left:528px;top:451px;width:80px;height:1px;background:rgb(95, 95, 95)"></div>
<div class="l m" style="left:607px;top:450px;width:80px;height:1px;background:rgb(177, 177, 177)"></div>
<div class="l m" style="left:607px;top:451px;width:80px;height:1px;background:rgb(95, 95, 95)"></div>
<div class="l m" style="left:686px;top:450px;width:108px;height:1px;background:rgb(177, 177, 177)"></div>
<div class="l m" style="left:686px;top:451px;width:108px;height:1px;background:rgb(95, 95, 95)"></div>
<div class="l m" style="left:947px;top:450px;width:77px;height:1px;background:rgb(177, 177, 177)"></div>
<div class="l m" style="left:947px;top:451px;width:77px;height:1px;background:rgb(95, 95, 95)"></div>
<div class="l m" style="left:1023px;top:450px;width:78px;height:1px;background:rgb(177, 177, 177)"></div>
<div class="l m" style="left:1023px;top:451px;width:78px;height:1px;background:rgb(95, 95, 95)"></div>
<div class="l m" style="left:23px;top:481px;width:132px;height:1px;background:rgb(177, 177, 177)"></div>
<div class="l m" style="left:23px;top:482px;width:132px;height:1px;background:rgb(95, 95, 95)"></div>
<div class="l m" style="left:154px;top:481px;width:138px;height:1px;background:rgb(177, 177, 177)"></div>
<div class="l m" style="left:154px;top:482px;width:138px;height:1px;background:rgb(95, 95, 95)"></div>
<div class="l m" style="left:291px;top:481px;width:80px;height:1px;background:rgb(177, 177, 177)"></div>
<div class="l m" style="left:291px;top:482px;width:80px;height:1px;background:rgb(95, 95, 95)"></div>
<div class="l m" style="left:370px;top:481px;width:80px;height:1px;background:rgb(177, 177, 177)"></div>
<div class="l m" style="left:370px;top:482px;width:80px;height:1px;background:rgb(95, 95, 95)"></div>
<div class="l m" style="left:449px;top:481px;width:80px;height:1px;background:rgb(177, 177, 177)"></div>
<div class="l m" style="left:449px;top:482px;width:80px;height:1px;background:rgb(95, 95, 95)"></div>
<div class="l m" style="left:528px;top:481px;width:80px;height:1px;background:rgb(177, 177, 177)"></div>
<div class="l m" style="left:528px;top:482px;width:80px;height:1px;background:rgb(95, 95, 95)"></div>
<div class="l m" style="left:607px;top:481px;width:80px;height:1px;background:rgb(177, 177, 177)"></div>
<div class="l m" style="left:607px;top:482px;width:80px;height:1px;background:rgb(95, 95, 95)"></div>
<div class="l m" style="left:686px;top:481px;width:108px;height:1px;background:rgb(177, 177, 177)"></div>
<div class="l m" style="left:686px;top:482px;width:108px;height:1px;background:rgb(95, 95, 95)"></div>
<div class="l m" style="left:947px;top:481px;width:77px;height:1px;background:rgb(177, 177, 177)"></div>
<div class="l m" style="left:947px;top:482px;width:77px;height:1px;background:rgb(95, 95, 95)"></div>
<div class="l m" style="left:1023px;top:481px;width:78px;height:1px;background:rgb(177, 177, 177)"></div>
<div class="l m" style="left:1023px;top:482px;width:78px;height:1px;background:rgb(95, 95, 95)"></div>
<div class="l m" style="left:23px;top:512px;width:132px;height:1px;background:rgb(177, 177, 177)"></div>
<div class="l m" style="left:23px;top:513px;width:132px;height:1px;background:rgb(95, 95, 95)"></div>
<div class="l m" style="left:154px;top:512px;width:138px;height:1px;background:rgb(177, 177, 177)"></div>
<div class="l m" style="left:154px;top:513px;width:138px;height:1px;background:rgb(95, 95, 95)"></div>
<div class="l m" style="left:291px;top:512px;width:80px;height:1px;background:rgb(177, 177, 177)"></div>
<div class="l m" style="left:291px;top:513px;width:80px;height:1px;background:rgb(95, 95, 95)"></div>
<div class="l m" style="left:370px;top:512px;width:80px;height:1px;background:rgb(177, 177, 177)"></div>
<div class="l m" style="left:370px;top:513px;width:80px;height:1px;background:rgb(95, 95, 95)"></div>
<div class="l m" style="left:449px;top:512px;width:80px;height:1px;background:rgb(177, 177, 177)"></div>
<div class="l m" style="left:449px;top:513px;width:80px;height:1px;background:rgb(95, 95, 95)"></div>
<div class="l m" style="left:528px;top:512px;width:80px;height:1px;background:rgb(177, 177, 177)"></div>
<div class="l m" style="left:528px;top:513px;width:80px;height:1px;background:rgb(95, 95, 95)"></div>
<div class="l m" style="left:607px;top:512px;width:80px;height:1px;background:rgb(177, 177, 177)"></div>
<div class="l m" style="left:607px;top:513px;width:80px;height:1px;background:rgb(95, 95, 95)"></div>
<div class="l m" style="left:686px;top:512px;width:108px;height:1px;background:rgb(177, 177, 177)"></div>
<div class="l m" style="left:686px;top:513px;width:108px;height:1px;background:rgb(95, 95, 95)"></div>
<div class="l m" style="left:947px;top:512px;width:77px;height:1px;background:rgb(177, 177, 177)"></div>
<div class="l m" style="left:947px;top:513px;width:77px;height:1px;background:rgb(95, 95, 95)"></div>
<div class="l m" style="left:1023px;top:512px;width:78px;height:1px;background:rgb(177, 177, 177)"></div>
<div class="l m" style="left:1023px;top:513px;width:78px;height:1px;background:rgb(95, 95, 95)"></div>
<div class="l m" style="left:23px;top:543px;width:132px;height:1px;background:rgb(136, 136, 136)"></div>
<div class="l m" style="left:23px;top:544px;width:132px;height:1px;background:rgb(136, 136, 136)"></div>
<div class="l m" style="left:154px;top:543px;width:138px;height:1px;background:rgb(136, 136, 136)"></div>
<div class="l m" style="left:154px;top:544px;width:138px;height:1px;background:rgb(136, 136, 136)"></div>
<div class="l m" style="left:291px;top:543px;width:80px;height:1px;background:rgb(136, 136, 136)"></div>
<div class="l m" style="left:291px;top:544px;width:80px;height:1px;background:rgb(136, 136, 136)"></div>
<div class="l m" style="left:370px;top:543px;width:80px;height:1px;background:rgb(136, 136, 136)"></div>
<div class="l m" style="left:370px;top:544px;width:80px;height:1px;background:rgb(136, 136, 136)"></div>
<div class="l m" style="left:449px;top:543px;width:80px;height:1px;background:rgb(136, 136, 136)"></div>
<div class="l m" style="left:449px;top:544px;width:80px;height:1px;background:rgb(136, 136, 136)"></div>
<div class="l m" style="left:528px;top:543px;width:80px;height:1px;background:rgb(136, 136, 136)"></div>
<div class="l m" style="left:528px;top:544px;width:80px;height:1px;background:rgb(136, 136, 136)"></div>
<div class="l m" style="left:607px;top:543px;width:80px;height:1px;background:rgb(136, 136, 136)"></div>
<div class="l m" style="left:607px;top:544px;width:80px;height:1px;background:rgb(136, 136, 136)"></div>
<div class="l m" style="left:686px;top:543px;width:108px;height:1px;background:rgb(136, 136, 136)"></div>
<div class="l m" style="left:686px;top:544px;width:108px;height:1px;background:rgb(136, 136, 136)"></div>
<div class="l m" style="left:793px;top:543px;width:78px;height:1px;background:rgb(136, 136, 136)"></div>
<div class="l m" style="left:793px;top:544px;width:78px;height:1px;background:rgb(136, 136, 136)"></div>
<div class="l m" style="left:870px;top:543px;width:78px;height:1px;background:rgb(136, 136, 136)"></div>
<div class="l m" style="left:870px;top:544px;width:78px;height:1px;background:rgb(136, 136, 136)"></div>
<div class="l m" style="left:947px;top:543px;width:77px;height:1px;background:rgb(136, 136, 136)"></div>
<div class="l m" style="left:947px;top:544px;width:77px;height:1px;background:rgb(136, 136, 136)"></div>
<div class="l m" style="left:1023px;top:543px;width:78px;height:1px;background:rgb(136, 136, 136)"></div>
<div class="l m" style="left:1023px;top:544px;width:78px;height:1px;background:rgb(136, 136, 136)"></div>
<div class="l m" style="left:1100px;top:543px;width:104px;height:1px;background:rgb(136, 136, 136)"></div>
<div class="l m" style="left:1100px;top:544px;width:104px;height:1px;background:rgb(136, 136, 136)"></div>
<div class="l m" style="left:1203px;top:543px;width:92px;height:1px;background:rgb(136, 136, 136)"></div>
<div class="l m" style="left:1203px;top:544px;width:92px;height:1px;background:rgb(136, 136, 136)"></div>
<div class="l m" style="left:23px;top:574px;width:132px;height:1px;background:rgb(115, 115, 115)"></div>
<div class="l m" style="left:23px;top:575px;width:132px;height:1px;background:rgb(157, 157, 157)"></div>
<div class="l m" style="left:154px;top:574px;width:138px;height:1px;background:rgb(115, 115, 115)"></div>
<div class="l m" style="left:154px;top:575px;width:138px;height:1px;background:rgb(157, 157, 157)"></div>
<div class="l m" style="left:291px;top:574px;width:80px;height:1px;background:rgb(115, 115, 115)"></div>
<div class="l m" style="left:291px;top:575px;width:80px;height:1px;background:rgb(157, 157, 157)"></div>
<div class="l m" style="left:370px;top:574px;width:80px;height:1px;background:rgb(115, 115, 115)"></div>
<div class="l m" style="left:370px;top:575px;width:80px;height:1px;background:rgb(157, 157, 157)"></div>
<div class="l m" style="left:449px;top:574px;width:80px;height:1px;background:rgb(115, 115, 115)"></div>
<div class="l m" style="left:449px;top:575px;width:80px;height:1px;background:rgb(157, 157, 157)"></div>
<div class="l m" style="left:528px;top:574px;width:80px;height:1px;background:rgb(115, 115, 115)"></div>
<div class="l m" style="left:528px;top:575px;width:80px;height:1px;background:rgb(157, 157, 157)"></div>
<div class="l m" style="left:607px;top:574px;width:80px;height:1px;background:rgb(115, 115, 115)"></div>
<div class="l m" style="left:607px;top:575px;width:80px;height:1px;background:rgb(157, 157, 157)"></div>
<div class="l m" style="left:686px;top:574px;width:108px;height:1px;background:rgb(115, 115, 115)"></div>
<div class="l m" style="left:686px;top:575px;width:108px;height:1px;background:rgb(157, 157, 157)"></div>
<div class="l m" style="left:947px;top:574px;width:77px;height:1px;background:rgb(115, 115, 115)"></div>
<div class="l m" style="left:947px;top:575px;width:77px;height:1px;background:rgb(157, 157, 157)"></div>
<div class="l m" style="left:1023px;top:574px;width:78px;height:1px;background:rgb(115, 115, 115)"></div>
<div class="l m" style="left:1023px;top:575px;width:78px;height:1px;background:rgb(157, 157, 157)"></div>
<div class="l m" style="left:23px;top:605px;width:132px;height:1px;background:rgb(115, 115, 115)"></div>
<div class="l m" style="left:23px;top:606px;width:132px;height:1px;background:rgb(157, 157, 157)"></div>
<div class="l m" style="left:154px;top:605px;width:138px;height:1px;background:rgb(115, 115, 115)"></div>
<div class="l m" style="left:154px;top:606px;width:138px;height:1px;background:rgb(157, 157, 157)"></div>
<div class="l m" style="left:291px;top:605px;width:80px;height:1px;background:rgb(115, 115, 115)"></div>
<div class="l m" style="left:291px;top:606px;width:80px;height:1px;background:rgb(157, 157, 157)"></div>
<div class="l m" style="left:370px;top:605px;width:80px;height:1px;background:rgb(115, 115, 115)"></div>
<div class="l m" style="left:370px;top:606px;width:80px;height:1px;background:rgb(157, 157, 157)"></div>
<div class="l m" style="left:449px;top:605px;width:80px;height:1px;background:rgb(115, 115, 115)"></div>
<div class="l m" style="left:449px;top:606px;width:80px;height:1px;background:rgb(157, 157, 157)"></div>
<div class="l m" style="left:528px;top:605px;width:80px;height:1px;background:rgb(115, 115, 115)"></div>
<div class="l m" style="left:528px;top:606px;width:80px;height:1px;background:rgb(157, 157, 157)"></div>
<div class="l m" style="left:607px;top:605px;width:80px;height:1px;background:rgb(115, 115, 115)"></div>
<div class="l m" style="left:607px;top:606px;width:80px;height:1px;background:rgb(157, 157, 157)"></div>
<div class="l m" style="left:686px;top:605px;width:108px;height:1px;background:rgb(115, 115, 115)"></div>
<div class="l m" style="left:686px;top:606px;width:108px;height:1px;background:rgb(157, 157, 157)"></div>
<div class="l m" style="left:947px;top:605px;width:77px;height:1px;background:rgb(115, 115, 115)"></div>
<div class="l m" style="left:947px;top:606px;width:77px;height:1px;background:rgb(157, 157, 157)"></div>
<div class="l m" style="left:1023px;top:605px;width:78px;height:1px;background:rgb(115, 115, 115)"></div>
<div class="l m" style="left:1023px;top:606px;width:78px;height:1px;background:rgb(157, 157, 157)"></div>
<div class="l m" style="left:23px;top:635px;width:132px;height:1px;background:rgb(239, 239, 239)"></div>
<div class="l m" style="left:23px;top:636px;width:132px;height:1px;background:rgb(48, 48, 48)"></div>
<div class="l m" style="left:23px;top:637px;width:132px;height:1px;background:rgb(239, 239, 239)"></div>
<div class="l m" style="left:154px;top:635px;width:138px;height:1px;background:rgb(239, 239, 239)"></div>
<div class="l m" style="left:154px;top:636px;width:138px;height:1px;background:rgb(48, 48, 48)"></div>
<div class="l m" style="left:154px;top:637px;width:138px;height:1px;background:rgb(239, 239, 239)"></div>
<div class="l m" style="left:291px;top:635px;width:80px;height:1px;background:rgb(239, 239, 239)"></div>
<div class="l m" style="left:291px;top:636px;width:80px;height:1px;background:rgb(48, 48, 48)"></div>
<div class="l m" style="left:291px;top:637px;width:80px;height:1px;background:rgb(239, 239, 239)"></div>
<div class="l m" style="left:370px;top:635px;width:80px;height:1px;background:rgb(239, 239, 239)"></div>
<div class="l m" style="left:370px;top:636px;width:80px;height:1px;background:rgb(48, 48, 48)"></div>
<div class="l m" style="left:370px;top:637px;width:80px;height:1px;background:rgb(239, 239, 239)"></div>
<div class="l m" style="left:449px;top:635px;width:80px;height:1px;background:rgb(239, 239, 239)"></div>
<div class="l m" style="left:449px;top:636px;width:80px;height:1px;background:rgb(48, 48, 48)"></div>
<div class="l m" style="left:449px;top:637px;width:80px;height:1px;background:rgb(239, 239, 239)"></div>
<div class="l m" style="left:528px;top:635px;width:80px;height:1px;background:rgb(239, 239, 239)"></div>
<div class="l m" style="left:528px;top:636px;width:80px;height:1px;background:rgb(48, 48, 48)"></div>
<div class="l m" style="left:528px;top:637px;width:80px;height:1px;background:rgb(239, 239, 239)"></div>
<div class="l m" style="left:607px;top:635px;width:80px;height:1px;background:rgb(239, 239, 239)"></div>
<div class="l m" style="left:607px;top:636px;width:80px;height:1px;background:rgb(48, 48, 48)"></div>
<div class="l m" style="left:607px;top:637px;width:80px;height:1px;background:rgb(239, 239, 239)"></div>
<div class="l m" style="left:686px;top:635px;width:108px;height:1px;background:rgb(239, 239, 239)"></div>
<div class="l m" style="left:686px;top:636px;width:108px;height:1px;background:rgb(48, 48, 48)"></div>
<div class="l m" style="left:686px;top:637px;width:108px;height:1px;background:rgb(239, 239, 239)"></div>
<div class="l m" style="left:793px;top:635px;width:78px;height:1px;background:rgb(239, 239, 239)"></div>
<div class="l m" style="left:793px;top:636px;width:78px;height:1px;background:rgb(48, 48, 48)"></div>
<div class="l m" style="left:793px;top:637px;width:78px;height:1px;background:rgb(239, 239, 239)"></div>
<div class="l m" style="left:870px;top:635px;width:78px;height:1px;background:rgb(239, 239, 239)"></div>
<div class="l m" style="left:870px;top:636px;width:78px;height:1px;background:rgb(48, 48, 48)"></div>
<div class="l m" style="left:870px;top:637px;width:78px;height:1px;background:rgb(239, 239, 239)"></div>
<div class="l m" style="left:947px;top:635px;width:77px;height:1px;background:rgb(239, 239, 239)"></div>
<div class="l m" style="left:947px;top:636px;width:77px;height:1px;background:rgb(48, 48, 48)"></div>
<div class="l m" style="left:947px;top:637px;width:77px;height:1px;background:rgb(239, 239, 239)"></div>
<div class="l m" style="left:1023px;top:635px;width:78px;height:1px;background:rgb(239, 239, 239)"></div>
<div class="l m" style="left:1023px;top:636px;width:78px;height:1px;background:rgb(48, 48, 48)"></div>
<div class="l m" style="left:1023px;top:637px;width:78px;height:1px;background:rgb(239, 239, 239)"></div>
<div class="l m" style="left:23px;top:666px;width:132px;height:1px;background:rgb(219, 219, 219)"></div>
<div class="l m" style="left:23px;top:667px;width:132px;height:1px;background:rgb(53, 53, 53)"></div>
<div class="l m" style="left:154px;top:666px;width:138px;height:1px;background:rgb(219, 219, 219)"></div>
<div class="l m" style="left:154px;top:667px;width:138px;height:1px;background:rgb(53, 53, 53)"></div>
<div class="l m" style="left:291px;top:666px;width:80px;height:1px;background:rgb(219, 219, 219)"></div>
<div class="l m" style="left:291px;top:667px;width:80px;height:1px;background:rgb(53, 53, 53)"></div>
<div class="l m" style="left:370px;top:666px;width:80px;height:1px;background:rgb(219, 219, 219)"></div>
<div class="l m" style="left:370px;top:667px;width:80px;height:1px;background:rgb(53, 53, 53)"></div>
<div class="l m" style="left:449px;top:666px;width:80px;height:1px;background:rgb(219, 219, 219)"></div>
<div class="l m" style="left:449px;top:667px;width:80px;height:1px;background:rgb(53, 53, 53)"></div>
<div class="l m" style="left:528px;top:666px;width:80px;height:1px;background:rgb(219, 219, 219)"></div>
<div class="l m" style="left:528px;top:667px;width:80px;height:1px;background:rgb(53, 53, 53)"></div>
<div class="l m" style="left:607px;top:666px;width:80px;height:1px;background:rgb(219, 219, 219)"></div>
<div class="l m" style="left:607px;top:667px;width:80px;height:1px;background:rgb(53, 53, 53)"></div>
<div class="l m" style="left:686px;top:666px;width:108px;height:1px;background:rgb(219, 219, 219)"></div>
<div class="l m" style="left:686px;top:667px;width:108px;height:1px;background:rgb(53, 53, 53)"></div>
<div class="l m" style="left:947px;top:666px;width:77px;height:1px;background:rgb(219, 219, 219)"></div>
<div class="l m" style="left:947px;top:667px;width:77px;height:1px;background:rgb(53, 53, 53)"></div>
<div class="l m" style="left:1023px;top:666px;width:78px;height:1px;background:rgb(219, 219, 219)"></div>
<div class="l m" style="left:1023px;top:667px;width:78px;height:1px;background:rgb(53, 53, 53)"></div>
<div class="l m" style="left:23px;top:697px;width:132px;height:1px;background:rgb(219, 219, 219)"></div>
<div class="l m" style="left:23px;top:698px;width:132px;height:1px;background:rgb(53, 53, 53)"></div>
<div class="l m" style="left:154px;top:697px;width:138px;height:1px;background:rgb(219, 219, 219)"></div>
<div class="l m" style="left:154px;top:698px;width:138px;height:1px;background:rgb(53, 53, 53)"></div>
<div class="l m" style="left:291px;top:697px;width:80px;height:1px;background:rgb(219, 219, 219)"></div>
<div class="l m" style="left:291px;top:698px;width:80px;height:1px;background:rgb(53, 53, 53)"></div>
<div class="l m" style="left:370px;top:697px;width:80px;height:1px;background:rgb(219, 219, 219)"></div>
<div class="l m" style="left:370px;top:698px;width:80px;height:1px;background:rgb(53, 53, 53)"></div>
<div class="l m" style="left:449px;top:697px;width:80px;height:1px;background:rgb(219, 219, 219)"></div>
<div class="l m" style="left:449px;top:698px;width:80px;height:1px;background:rgb(53, 53, 53)"></div>
<div class="l m" style="left:528px;top:697px;width:80px;height:1px;background:rgb(219, 219, 219)"></div>
<div class="l m" style="left:528px;top:698px;width:80px;height:1px;background:rgb(53, 53, 53)"></div>
<div class="l m" style="left:607px;top:697px;width:80px;height:1px;background:rgb(219, 219, 219)"></div>
<div class="l m" style="left:607px;top:698px;width:80px;height:1px;background:rgb(53, 53, 53)"></div>
<div class="l m" style="left:686px;top:697px;width:108px;height:1px;background:rgb(219, 219, 219)"></div>
<div class="l m" style="left:686px;top:698px;width:108px;height:1px;background:rgb(53, 53, 53)"></div>
<div class="l m" style="left:947px;top:697px;width:77px;height:1px;background:rgb(219, 219, 219)"></div>
<div class="l m" style="left:947px;top:698px;width:77px;height:1px;background:rgb(53, 53, 53)"></div>
<div class="l m" style="left:1023px;top:697px;width:78px;height:1px;background:rgb(219, 219, 219)"></div>
<div class="l m" style="left:1023px;top:698px;width:78px;height:1px;background:rgb(53, 53, 53)"></div>
<div class="l m" style="left:1100px;top:697px;width:104px;height:1px;background:rgb(219, 219, 219)"></div>
<div class="l m" style="left:1100px;top:698px;width:104px;height:1px;background:rgb(53, 53, 53)"></div>
<div class="l m" style="left:1203px;top:697px;width:92px;height:1px;background:rgb(219, 219, 219)"></div>
<div class="l m" style="left:1203px;top:698px;width:92px;height:1px;background:rgb(53, 53, 53)"></div>
<div class="l m" style="left:23px;top:728px;width:132px;height:1px;background:rgb(177, 177, 177)"></div>
<div class="l m" style="left:23px;top:729px;width:132px;height:1px;background:rgb(95, 95, 95)"></div>
<div class="l m" style="left:154px;top:728px;width:138px;height:1px;background:rgb(177, 177, 177)"></div>
<div class="l m" style="left:154px;top:729px;width:138px;height:1px;background:rgb(95, 95, 95)"></div>
<div class="l m" style="left:291px;top:728px;width:80px;height:1px;background:rgb(177, 177, 177)"></div>
<div class="l m" style="left:291px;top:729px;width:80px;height:1px;background:rgb(95, 95, 95)"></div>
<div class="l m" style="left:370px;top:728px;width:80px;height:1px;background:rgb(177, 177, 177)"></div>
<div class="l m" style="left:370px;top:729px;width:80px;height:1px;background:rgb(95, 95, 95)"></div>
<div class="l m" style="left:449px;top:728px;width:80px;height:1px;background:rgb(177, 177, 177)"></div>
<div class="l m" style="left:449px;top:729px;width:80px;height:1px;background:rgb(95, 95, 95)"></div>
<div class="l m" style="left:528px;top:728px;width:80px;height:1px;background:rgb(177, 177, 177)"></div>
<div class="l m" style="left:528px;top:729px;width:80px;height:1px;background:rgb(95, 95, 95)"></div>
<div class="l m" style="left:607px;top:728px;width:80px;height:1px;background:rgb(177, 177, 177)"></div>
<div class="l m" style="left:607px;top:729px;width:80px;height:1px;background:rgb(95, 95, 95)"></div>
<div class="l m" style="left:686px;top:728px;width:108px;height:1px;background:rgb(177, 177, 177)"></div>
<div class="l m" style="left:686px;top:729px;width:108px;height:1px;background:rgb(95, 95, 95)"></div>
<div class="l m" style="left:947px;top:728px;width:77px;height:1px;background:rgb(177, 177, 177)"></div>
<div class="l m" style="left:947px;top:729px;width:77px;height:1px;background:rgb(95, 95, 95)"></div>
<div class="l m" style="left:1023px;top:728px;width:78px;height:1px;background:rgb(177, 177, 177)"></div>
<div class="l m" style="left:1023px;top:729px;width:78px;height:1px;background:rgb(95, 95, 95)"></div>
<div class="l m" style="left:23px;top:759px;width:132px;height:1px;background:rgb(177, 177, 177)"></div>
<div class="l m" style="left:23px;top:760px;width:132px;height:1px;background:rgb(95, 95, 95)"></div>
<div class="l m" style="left:154px;top:759px;width:138px;height:1px;background:rgb(177, 177, 177)"></div>
<div class="l m" style="left:154px;top:760px;width:138px;height:1px;background:rgb(95, 95, 95)"></div>
<div class="l m" style="left:291px;top:759px;width:80px;height:1px;background:rgb(177, 177, 177)"></div>
<div class="l m" style="left:291px;top:760px;width:80px;height:1px;background:rgb(95, 95, 95)"></div>
<div class="l m" style="left:370px;top:759px;width:80px;height:1px;background:rgb(177, 177, 177)"></div>
<div class="l m" style="left:370px;top:760px;width:80px;height:1px;background:rgb(95, 95, 95)"></div>
<div class="l m" style="left:449px;top:759px;width:80px;height:1px;background:rgb(177, 177, 177)"></div>
<div class="l m" style="left:449px;top:760px;width:80px;height:1px;background:rgb(95, 95, 95)"></div>
<div class="l m" style="left:528px;top:759px;width:80px;height:1px;background:rgb(177, 177, 177)"></div>
<div class="l m" style="left:528px;top:760px;width:80px;height:1px;background:rgb(95, 95, 95)"></div>
<div class="l m" style="left:607px;top:759px;width:80px;height:1px;background:rgb(177, 177, 177)"></div>
<div class="l m" style="left:607px;top:760px;width:80px;height:1px;background:rgb(95, 95, 95)"></div>
<div class="l m" style="left:686px;top:759px;width:108px;height:1px;background:rgb(177, 177, 177)"></div>
<div class="l m" style="left:686px;top:760px;width:108px;height:1px;background:rgb(95, 95, 95)"></div>
<div class="l m" style="left:947px;top:759px;width:77px;height:1px;background:rgb(177, 177, 177)"></div>
<div class="l m" style="left:947px;top:760px;width:77px;height:1px;background:rgb(95, 95, 95)"></div>
<div class="l m" style="left:1023px;top:759px;width:78px;height:1px;background:rgb(177, 177, 177)"></div>
<div class="l m" style="left:1023px;top:760px;width:78px;height:1px;background:rgb(95, 95, 95)"></div>
<div class="l m" style="left:23px;top:790px;width:132px;height:1px;background:rgb(115, 115, 115)"></div>
<div class="l m" style="left:23px;top:791px;width:132px;height:1px;background:rgb(157, 157, 157)"></div>
<div class="l m" style="left:154px;top:790px;width:138px;height:1px;background:rgb(115, 115, 115)"></div>
<div class="l m" style="left:154px;top:791px;width:138px;height:1px;background:rgb(157, 157, 157)"></div>
<div class="l m" style="left:291px;top:790px;width:80px;height:1px;background:rgb(115, 115, 115)"></div>
<div class="l m" style="left:291px;top:791px;width:80px;height:1px;background:rgb(157, 157, 157)"></div>
<div class="l m" style="left:370px;top:790px;width:80px;height:1px;background:rgb(115, 115, 115)"></div>
<div class="l m" style="left:370px;top:791px;width:80px;height:1px;background:rgb(157, 157, 157)"></div>
<div class="l m" style="left:449px;top:790px;width:80px;height:1px;background:rgb(115, 115, 115)"></div>
<div class="l m" style="left:449px;top:791px;width:80px;height:1px;background:rgb(157, 157, 157)"></div>
<div class="l m" style="left:528px;top:790px;width:80px;height:1px;background:rgb(115, 115, 115)"></div>
<div class="l m" style="left:528px;top:791px;width:80px;height:1px;background:rgb(157, 157, 157)"></div>
<div class="l m" style="left:607px;top:790px;width:80px;height:1px;background:rgb(115, 115, 115)"></div>
<div class="l m" style="left:607px;top:791px;width:80px;height:1px;background:rgb(157, 157, 157)"></div>
<div class="l m" style="left:686px;top:790px;width:108px;height:1px;background:rgb(115, 115, 115)"></div>
<div class="l m" style="left:686px;top:791px;width:108px;height:1px;background:rgb(157, 157, 157)"></div>
<div class="l m" style="left:947px;top:790px;width:77px;height:1px;background:rgb(115, 115, 115)"></div>
<div class="l m" style="left:947px;top:791px;width:77px;height:1px;background:rgb(157, 157, 157)"></div>
<div class="l m" style="left:1023px;top:790px;width:78px;height:1px;background:rgb(115, 115, 115)"></div>
<div class="l m" style="left:1023px;top:791px;width:78px;height:1px;background:rgb(157, 157, 157)"></div>
<div class="l m" style="left:23px;top:821px;width:132px;height:1px;background:rgb(53, 53, 53)"></div>
<div class="l m" style="left:23px;top:822px;width:132px;height:1px;background:rgb(219, 219, 219)"></div>
<div class="l m" style="left:154px;top:821px;width:138px;height:1px;background:rgb(53, 53, 53)"></div>
<div class="l m" style="left:154px;top:822px;width:138px;height:1px;background:rgb(219, 219, 219)"></div>
<div class="l m" style="left:291px;top:821px;width:80px;height:1px;background:rgb(53, 53, 53)"></div>
<div class="l m" style="left:291px;top:822px;width:80px;height:1px;background:rgb(219, 219, 219)"></div>
<div class="l m" style="left:370px;top:821px;width:80px;height:1px;background:rgb(53, 53, 53)"></div>
<div class="l m" style="left:370px;top:822px;width:80px;height:1px;background:rgb(219, 219, 219)"></div>
<div class="l m" style="left:449px;top:821px;width:80px;height:1px;background:rgb(53, 53, 53)"></div>
<div class="l m" style="left:449px;top:822px;width:80px;height:1px;background:rgb(219, 219, 219)"></div>
<div class="l m" style="left:528px;top:821px;width:80px;height:1px;background:rgb(53, 53, 53)"></div>
<div class="l m" style="left:528px;top:822px;width:80px;height:1px;background:rgb(219, 219, 219)"></div>
<div class="l m" style="left:607px;top:821px;width:80px;height:1px;background:rgb(53, 53, 53)"></div>
<div class="l m" style="left:607px;top:822px;width:80px;height:1px;background:rgb(219, 219, 219)"></div>
<div class="l m" style="left:686px;top:821px;width:108px;height:1px;background:rgb(53, 53, 53)"></div>
<div class="l m" style="left:686px;top:822px;width:108px;height:1px;background:rgb(219, 219, 219)"></div>
<div class="l m" style="left:793px;top:821px;width:78px;height:1px;background:rgb(53, 53, 53)"></div>
<div class="l m" style="left:793px;top:822px;width:78px;height:1px;background:rgb(219, 219, 219)"></div>
<div class="l m" style="left:870px;top:821px;width:78px;height:1px;background:rgb(53, 53, 53)"></div>
<div class="l m" style="left:870px;top:822px;width:78px;height:1px;background:rgb(219, 219, 219)"></div>
<div class="l m" style="left:947px;top:821px;width:77px;height:1px;background:rgb(53, 53, 53)"></div>
<div class="l m" style="left:947px;top:822px;width:77px;height:1px;background:rgb(219, 219, 219)"></div>
<div class="l m" style="left:1023px;top:821px;width:78px;height:1px;background:rgb(53, 53, 53)"></div>
<div class="l m" style="left:1023px;top:822px;width:78px;height:1px;background:rgb(219, 219, 219)"></div>
<div class="l m" style="left:1100px;top:821px;width:104px;height:1px;background:rgb(53, 53, 53)"></div>
<div class="l m" style="left:1100px;top:822px;width:104px;height:1px;background:rgb(219, 219, 219)"></div>
<div class="l m" style="left:1203px;top:821px;width:92px;height:1px;background:rgb(53, 53, 53)"></div>
<div class="l m" style="left:1203px;top:822px;width:92px;height:1px;background:rgb(219, 219, 219)"></div>
<div class="l m" style="left:23px;top:851px;width:132px;height:1px;background:rgb(239, 239, 239)"></div>
<div class="l m" style="left:23px;top:852px;width:132px;height:1px;background:rgb(48, 48, 48)"></div>
<div class="l m" style="left:23px;top:853px;width:132px;height:1px;background:rgb(239, 239, 239)"></div>
<div class="l m" style="left:154px;top:851px;width:138px;height:1px;background:rgb(239, 239, 239)"></div>
<div class="l m" style="left:154px;top:852px;width:138px;height:1px;background:rgb(48, 48, 48)"></div>
<div class="l m" style="left:154px;top:853px;width:138px;height:1px;background:rgb(239, 239, 239)"></div>
<div class="l m" style="left:291px;top:851px;width:80px;height:1px;background:rgb(239, 239, 239)"></div>
<div class="l m" style="left:291px;top:852px;width:80px;height:1px;background:rgb(48, 48, 48)"></div>
<div class="l m" style="left:291px;top:853px;width:80px;height:1px;background:rgb(239, 239, 239)"></div>
<div class="l m" style="left:370px;top:851px;width:80px;height:1px;background:rgb(239, 239, 239)"></div>
<div class="l m" style="left:370px;top:852px;width:80px;height:1px;background:rgb(48, 48, 48)"></div>
<div class="l m" style="left:370px;top:853px;width:80px;height:1px;background:rgb(239, 239, 239)"></div>
<div class="l m" style="left:449px;top:851px;width:80px;height:1px;background:rgb(239, 239, 239)"></div>
<div class="l m" style="left:449px;top:852px;width:80px;height:1px;background:rgb(48, 48, 48)"></div>
<div class="l m" style="left:449px;top:853px;width:80px;height:1px;background:rgb(239, 239, 239)"></div>
<div class="l m" style="left:528px;top:851px;width:80px;height:1px;background:rgb(239, 239, 239)"></div>
<div class="l m" style="left:528px;top:852px;width:80px;height:1px;background:rgb(48, 48, 48)"></div>
<div class="l m" style="left:528px;top:853px;width:80px;height:1px;background:rgb(239, 239, 239)"></div>
<div class="l m" style="left:607px;top:851px;width:80px;height:1px;background:rgb(239, 239, 239)"></div>
<div class="l m" style="left:607px;top:852px;width:80px;height:1px;background:rgb(48, 48, 48)"></div>
<div class="l m" style="left:607px;top:853px;width:80px;height:1px;background:rgb(239, 239, 239)"></div>
<div class="l m" style="left:686px;top:851px;width:108px;height:1px;background:rgb(239, 239, 239)"></div>
<div class="l m" style="left:686px;top:852px;width:108px;height:1px;background:rgb(48, 48, 48)"></div>
<div class="l m" style="left:686px;top:853px;width:108px;height:1px;background:rgb(239, 239, 239)"></div>
<div class="l m" style="left:947px;top:851px;width:77px;height:1px;background:rgb(239, 239, 239)"></div>
<div class="l m" style="left:947px;top:852px;width:77px;height:1px;background:rgb(48, 48, 48)"></div>
<div class="l m" style="left:947px;top:853px;width:77px;height:1px;background:rgb(239, 239, 239)"></div>
<div class="l m" style="left:1023px;top:851px;width:78px;height:1px;background:rgb(239, 239, 239)"></div>
<div class="l m" style="left:1023px;top:852px;width:78px;height:1px;background:rgb(48, 48, 48)"></div>
<div class="l m" style="left:1023px;top:853px;width:78px;height:1px;background:rgb(239, 239, 239)"></div>
<div class="l m" style="left:23px;top:882px;width:132px;height:1px;background:rgb(199, 199, 199)"></div>
<div class="l m" style="left:23px;top:883px;width:132px;height:1px;background:rgb(30, 30, 30)"></div>
<div class="l m" style="left:23px;top:884px;width:132px;height:1px;background:rgb(199, 199, 199)"></div>
<div class="l m" style="left:154px;top:882px;width:138px;height:1px;background:rgb(199, 199, 199)"></div>
<div class="l m" style="left:154px;top:883px;width:138px;height:1px;background:rgb(30, 30, 30)"></div>
<div class="l m" style="left:154px;top:884px;width:138px;height:1px;background:rgb(199, 199, 199)"></div>
<div class="l m" style="left:291px;top:882px;width:80px;height:1px;background:rgb(199, 199, 199)"></div>
<div class="l m" style="left:291px;top:883px;width:80px;height:1px;background:rgb(30, 30, 30)"></div>
<div class="l m" style="left:291px;top:884px;width:80px;height:1px;background:rgb(199, 199, 199)"></div>
<div class="l m" style="left:370px;top:882px;width:80px;height:1px;background:rgb(199, 199, 199)"></div>
<div class="l m" style="left:370px;top:883px;width:80px;height:1px;background:rgb(30, 30, 30)"></div>
<div class="l m" style="left:370px;top:884px;width:80px;height:1px;background:rgb(199, 199, 199)"></div>
<div class="l m" style="left:449px;top:882px;width:80px;height:1px;background:rgb(199, 199, 199)"></div>
<div class="l m" style="left:449px;top:883px;width:80px;height:1px;background:rgb(30, 30, 30)"></div>
<div class="l m" style="left:449px;top:884px;width:80px;height:1px;background:rgb(199, 199, 199)"></div>
<div class="l m" style="left:528px;top:882px;width:80px;height:1px;background:rgb(199, 199, 199)"></div>
<div class="l m" style="left:528px;top:883px;width:80px;height:1px;background:rgb(30, 30, 30)"></div>
<div class="l m" style="left:528px;top:884px;width:80px;height:1px;background:rgb(199, 199, 199)"></div>
<div class="l m" style="left:607px;top:882px;width:80px;height:1px;background:rgb(199, 199, 199)"></div>
<div class="l m" style="left:607px;top:883px;width:80px;height:1px;background:rgb(30, 30, 30)"></div>
<div class="l m" style="left:607px;top:884px;width:80px;height:1px;background:rgb(199, 199, 199)"></div>
<div class="l m" style="left:686px;top:882px;width:108px;height:1px;background:rgb(199, 199, 199)"></div>
<div class="l m" style="left:686px;top:883px;width:108px;height:1px;background:rgb(30, 30, 30)"></div>
<div class="l m" style="left:686px;top:884px;width:108px;height:1px;background:rgb(199, 199, 199)"></div>
<div class="l m" style="left:793px;top:882px;width:78px;height:1px;background:rgb(199, 199, 199)"></div>
<div class="l m" style="left:793px;top:883px;width:78px;height:1px;background:rgb(30, 30, 30)"></div>
<div class="l m" style="left:793px;top:884px;width:78px;height:1px;background:rgb(199, 199, 199)"></div>
<div class="l m" style="left:870px;top:882px;width:78px;height:1px;background:rgb(199, 199, 199)"></div>
<div class="l m" style="left:870px;top:883px;width:78px;height:1px;background:rgb(30, 30, 30)"></div>
<div class="l m" style="left:870px;top:884px;width:78px;height:1px;background:rgb(199, 199, 199)"></div>
<div class="l m" style="left:947px;top:882px;width:77px;height:1px;background:rgb(199, 199, 199)"></div>
<div class="l m" style="left:947px;top:883px;width:77px;height:1px;background:rgb(30, 30, 30)"></div>
<div class="l m" style="left:947px;top:884px;width:77px;height:1px;background:rgb(199, 199, 199)"></div>
<div class="l m" style="left:1023px;top:882px;width:78px;height:1px;background:rgb(199, 199, 199)"></div>
<div class="l m" style="left:1023px;top:883px;width:78px;height:1px;background:rgb(30, 30, 30)"></div>
<div class="l m" style="left:1023px;top:884px;width:78px;height:1px;background:rgb(199, 199, 199)"></div>
<div class="l m" style="left:1100px;top:882px;width:104px;height:1px;background:rgb(199, 199, 199)"></div>
<div class="l m" style="left:1100px;top:883px;width:104px;height:1px;background:rgb(30, 30, 30)"></div>
<div class="l m" style="left:1100px;top:884px;width:104px;height:1px;background:rgb(199, 199, 199)"></div>
<div class="l m" style="left:1203px;top:882px;width:92px;height:1px;background:rgb(199, 199, 199)"></div>
<div class="l m" style="left:1203px;top:883px;width:92px;height:1px;background:rgb(30, 30, 30)"></div>
<div class="l m" style="left:1203px;top:884px;width:92px;height:1px;background:rgb(199, 199, 199)"></div>
<div class="l m" style="left:154px;top:144px;width:1px;height:739px;background:#484848"></div>
<div class="l m" style="left:291px;top:144px;width:1px;height:739px;background:#555555"></div>
<div class="l m" style="left:370px;top:144px;width:1px;height:739px;background:#3c3c3c"></div>
<div class="l m" style="left:449px;top:144px;width:1px;height:739px;background:#3c3c3c"></div>
<div class="l m" style="left:528px;top:144px;width:1px;height:739px;background:#3c3c3c"></div>
<div class="l m" style="left:607px;top:144px;width:1px;height:739px;background:#3c3c3c"></div>
<div class="l m" style="left:686px;top:144px;width:1px;height:739px;background:#666666"></div>
<div class="l m" style="left:793px;top:144px;width:1px;height:739px;background:#666666"></div>
<div class="l m" style="left:870px;top:144px;width:1px;height:739px;background:#242424"></div>
<div class="l m" style="left:947px;top:144px;width:1px;height:739px;background:#6a6a6a"></div>
<div class="l m" style="left:1023px;top:144px;width:1px;height:739px;background:#5a5a5a"></div>
<div class="l m" style="left:1100px;top:144px;width:1px;height:739px;background:#2c2c2c"></div>
<div class="l m" style="left:1203px;top:144px;width:1px;height:739px;background:#808080"></div>
</div>
</body></html>
